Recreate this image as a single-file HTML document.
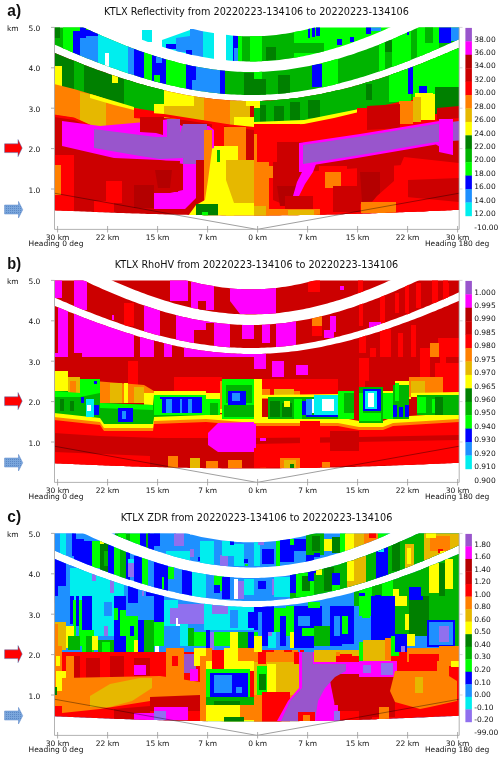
<!DOCTYPE html><html><head><meta charset="utf-8"><style>
html,body{margin:0;padding:0;background:#fff;width:500px;height:758px;overflow:hidden}
svg{display:block}
.t{font-family:"DejaVu Sans","Liberation Sans",sans-serif;font-size:7.5px;fill:#111}
.ti{font-family:"DejaVu Sans","Liberation Sans",sans-serif;font-size:9.7px;fill:#111}
.lb{font-family:"Liberation Sans","DejaVu Sans",sans-serif;font-size:17px;font-weight:bold;fill:#111}
</style></head><body>
<svg width="500" height="758" viewBox="0 0 500 758">
<defs><pattern id="dots" width="2" height="2" patternUnits="userSpaceOnUse"><rect width="2" height="2" fill="#7aa6dc"/><rect width="1" height="1" fill="#5b88c6"/></pattern></defs>
<g transform="translate(0,0)">
<clipPath id="c0s1"><polygon points="54.3,-36.4 57.3,-34.5 60.3,-32.6 63.3,-30.7 66.3,-28.9 69.3,-27.0 72.3,-25.2 75.3,-23.4 78.3,-21.6 81.3,-19.8 84.3,-18.1 87.3,-16.3 90.3,-14.6 93.3,-12.9 96.3,-11.3 99.3,-9.6 102.3,-8.0 105.3,-6.4 108.3,-4.8 111.3,-3.2 114.3,-1.7 117.3,-0.2 120.3,1.3 123.3,2.8 126.3,4.2 129.3,5.7 132.3,7.1 135.3,8.4 138.3,9.8 141.3,11.1 144.3,12.4 147.3,13.6 150.3,14.8 153.3,16.0 156.3,17.2 159.3,18.4 162.3,19.5 165.3,20.5 168.3,21.6 171.3,22.6 174.3,23.6 177.3,24.5 180.3,25.4 183.3,26.3 186.3,27.2 189.3,28.0 192.3,28.7 195.3,29.5 198.3,30.2 201.3,30.9 204.3,31.5 207.3,32.1 210.3,32.6 213.3,33.1 216.3,33.6 219.3,34.1 222.3,34.5 225.3,34.8 228.3,35.1 231.3,35.4 234.3,35.7 237.3,35.9 240.3,36.0 243.3,36.2 246.3,36.2 249.3,36.3 252.3,36.3 255.3,36.2 258.3,36.2 261.3,36.1 264.3,35.9 267.3,35.7 270.3,35.5 273.3,35.2 276.3,34.9 279.3,34.5 282.3,34.1 285.3,33.7 288.3,33.2 291.3,32.7 294.3,32.1 297.3,31.6 300.3,30.9 303.3,30.3 306.3,29.6 309.3,28.8 312.3,28.1 315.3,27.3 318.3,26.4 321.3,25.6 324.3,24.6 327.3,23.7 330.3,22.7 333.3,21.7 336.3,20.7 339.3,19.6 342.3,18.5 345.3,17.4 348.3,16.2 351.3,15.0 354.3,13.8 357.3,12.5 360.3,11.3 363.3,9.9 366.3,8.6 369.3,7.2 372.3,5.9 375.3,4.4 378.3,3.0 381.3,1.5 384.3,0.0 387.3,-1.5 390.3,-3.0 393.3,-4.6 396.3,-6.2 399.3,-7.8 402.3,-9.4 405.3,-11.0 408.3,-12.7 411.3,-14.4 414.3,-16.1 417.3,-17.8 420.3,-19.6 423.3,-21.4 426.3,-23.1 429.3,-24.9 432.3,-26.8 435.3,-28.6 438.3,-30.5 441.3,-32.3 444.3,-34.2 447.3,-36.1 450.3,-38.0 453.3,-40.0 456.3,-41.9 459.2,-43.8 459.2,-8.3 456.3,-6.6 453.3,-4.9 450.3,-3.2 447.3,-1.6 444.3,0.1 441.3,1.7 438.3,3.4 435.3,5.0 432.3,6.6 429.3,8.2 426.3,9.7 423.3,11.3 420.3,12.8 417.3,14.3 414.3,15.8 411.3,17.3 408.3,18.8 405.3,20.2 402.3,21.7 399.3,23.1 396.3,24.5 393.3,25.9 390.3,27.2 387.3,28.6 384.3,29.9 381.3,31.2 378.3,32.5 375.3,33.7 372.3,34.9 369.3,36.2 366.3,37.3 363.3,38.5 360.3,39.6 357.3,40.8 354.3,41.8 351.3,42.9 348.3,43.9 345.3,45.0 342.3,45.9 339.3,46.9 336.3,47.8 333.3,48.7 330.3,49.6 327.3,50.5 324.3,51.3 321.3,52.1 318.3,52.8 315.3,53.6 312.3,54.3 309.3,54.9 306.3,55.6 303.3,56.2 300.3,56.8 297.3,57.3 294.3,57.8 291.3,58.3 288.3,58.7 285.3,59.1 282.3,59.5 279.3,59.9 276.3,60.2 273.3,60.5 270.3,60.7 267.3,60.9 264.3,61.1 261.3,61.2 258.3,61.3 255.3,61.4 252.3,61.4 249.3,61.4 246.3,61.4 243.3,61.3 240.3,61.2 237.3,61.1 234.3,60.9 231.3,60.7 228.3,60.4 225.3,60.1 222.3,59.8 219.3,59.5 216.3,59.1 213.3,58.7 210.3,58.2 207.3,57.7 204.3,57.2 201.3,56.7 198.3,56.1 195.3,55.5 192.3,54.9 189.3,54.2 186.3,53.5 183.3,52.7 180.3,52.0 177.3,51.2 174.3,50.4 171.3,49.5 168.3,48.6 165.3,47.7 162.3,46.8 159.3,45.8 156.3,44.8 153.3,43.8 150.3,42.8 147.3,41.7 144.3,40.6 141.3,39.5 138.3,38.3 135.3,37.2 132.3,36.0 129.3,34.8 126.3,33.5 123.3,32.3 120.3,31.0 117.3,29.7 114.3,28.4 111.3,27.0 108.3,25.7 105.3,24.3 102.3,22.9 99.3,21.5 96.3,20.1 93.3,18.6 90.3,17.1 87.3,15.6 84.3,14.1 81.3,12.6 78.3,11.1 75.3,9.5 72.3,7.9 69.3,6.4 66.3,4.8 63.3,3.1 60.3,1.5 57.3,-0.1 54.3,-1.8"/></clipPath>
<clipPath id="c0s2"><polygon points="54.3,12.8 57.3,14.3 60.3,15.9 63.3,17.4 66.3,18.9 69.3,20.4 72.3,21.9 75.3,23.4 78.3,24.8 81.3,26.3 84.3,27.7 87.3,29.1 90.3,30.5 93.3,31.9 96.3,33.2 99.3,34.6 102.3,35.9 105.3,37.2 108.3,38.5 111.3,39.8 114.3,41.1 117.3,42.3 120.3,43.5 123.3,44.7 126.3,45.9 129.3,47.0 132.3,48.2 135.3,49.3 138.3,50.4 141.3,51.5 144.3,52.5 147.3,53.5 150.3,54.5 153.3,55.5 156.3,56.5 159.3,57.4 162.3,58.3 165.3,59.2 168.3,60.0 171.3,60.8 174.3,61.6 177.3,62.4 180.3,63.2 183.3,63.9 186.3,64.6 189.3,65.2 192.3,65.9 195.3,66.5 198.3,67.0 201.3,67.6 204.3,68.1 207.3,68.6 210.3,69.0 213.3,69.4 216.3,69.8 219.3,70.2 222.3,70.5 225.3,70.8 228.3,71.1 231.3,71.3 234.3,71.5 237.3,71.7 240.3,71.8 243.3,71.9 246.3,72.0 249.3,72.0 252.3,72.0 255.3,72.0 258.3,71.9 261.3,71.8 264.3,71.7 267.3,71.5 270.3,71.3 273.3,71.1 276.3,70.8 279.3,70.6 282.3,70.2 285.3,69.9 288.3,69.5 291.3,69.1 294.3,68.6 297.3,68.1 300.3,67.6 303.3,67.1 306.3,66.5 309.3,65.9 312.3,65.3 315.3,64.7 318.3,64.0 321.3,63.3 324.3,62.5 327.3,61.7 330.3,61.0 333.3,60.1 336.3,59.3 339.3,58.4 342.3,57.5 345.3,56.6 348.3,55.6 351.3,54.7 354.3,53.7 357.3,52.6 360.3,51.6 363.3,50.5 366.3,49.4 369.3,48.3 372.3,47.2 375.3,46.0 378.3,44.9 381.3,43.7 384.3,42.5 387.3,41.2 390.3,40.0 393.3,38.7 396.3,37.4 399.3,36.1 402.3,34.8 405.3,33.4 408.3,32.1 411.3,30.7 414.3,29.3 417.3,27.9 420.3,26.5 423.3,25.0 426.3,23.6 429.3,22.1 432.3,20.6 435.3,19.1 438.3,17.6 441.3,16.1 444.3,14.5 447.3,13.0 450.3,11.4 453.3,9.8 456.3,8.3 459.2,6.7 459.2,39.2 456.3,40.5 453.3,41.9 450.3,43.3 447.3,44.6 444.3,45.9 441.3,47.2 438.3,48.5 435.3,49.8 432.3,51.1 429.3,52.4 426.3,53.6 423.3,54.9 420.3,56.1 417.3,57.3 414.3,58.5 411.3,59.7 408.3,60.9 405.3,62.0 402.3,63.2 399.3,64.3 396.3,65.4 393.3,66.5 390.3,67.6 387.3,68.7 384.3,69.8 381.3,70.8 378.3,71.8 375.3,72.8 372.3,73.8 369.3,74.8 366.3,75.7 363.3,76.7 360.3,77.6 357.3,78.5 354.3,79.3 351.3,80.2 348.3,81.0 345.3,81.8 342.3,82.6 339.3,83.4 336.3,84.1 333.3,84.9 330.3,85.6 327.3,86.2 324.3,86.9 321.3,87.5 318.3,88.1 315.3,88.7 312.3,89.3 309.3,89.8 306.3,90.3 303.3,90.8 300.3,91.3 297.3,91.7 294.3,92.1 291.3,92.5 288.3,92.8 285.3,93.2 282.3,93.5 279.3,93.8 276.3,94.0 273.3,94.2 270.3,94.4 267.3,94.6 264.3,94.7 261.3,94.8 258.3,94.9 255.3,95.0 252.3,95.0 249.3,95.0 246.3,95.0 243.3,94.9 240.3,94.8 237.3,94.7 234.3,94.6 231.3,94.4 228.3,94.2 225.3,94.0 222.3,93.7 219.3,93.4 216.3,93.1 213.3,92.8 210.3,92.4 207.3,92.1 204.3,91.6 201.3,91.2 198.3,90.7 195.3,90.3 192.3,89.7 189.3,89.2 186.3,88.6 183.3,88.0 180.3,87.4 177.3,86.8 174.3,86.1 171.3,85.5 168.3,84.8 165.3,84.0 162.3,83.3 159.3,82.5 156.3,81.7 153.3,80.9 150.3,80.1 147.3,79.2 144.3,78.3 141.3,77.4 138.3,76.5 135.3,75.6 132.3,74.6 129.3,73.7 126.3,72.7 123.3,71.7 120.3,70.7 117.3,69.6 114.3,68.6 111.3,67.5 108.3,66.4 105.3,65.3 102.3,64.2 99.3,63.0 96.3,61.9 93.3,60.7 90.3,59.5 87.3,58.4 84.3,57.2 81.3,55.9 78.3,54.7 75.3,53.5 72.3,52.2 69.3,50.9 66.3,49.6 63.3,48.4 60.3,47.1 57.3,45.7 54.3,44.4"/></clipPath>
<clipPath id="c0s3"><polygon points="54.3,52.7 57.3,54.0 60.3,55.2 63.3,56.5 66.3,57.7 69.3,58.9 72.3,60.1 75.3,61.3 78.3,62.5 81.3,63.7 84.3,64.9 87.3,66.0 90.3,67.2 93.3,68.3 96.3,69.4 99.3,70.5 102.3,71.6 105.3,72.6 108.3,73.7 111.3,74.7 114.3,75.8 117.3,76.8 120.3,77.8 123.3,78.7 126.3,79.7 129.3,80.6 132.3,81.6 135.3,82.5 138.3,83.4 141.3,84.2 144.3,85.1 147.3,85.9 150.3,86.8 153.3,87.6 156.3,88.3 159.3,89.1 162.3,89.8 165.3,90.5 168.3,91.2 171.3,91.9 174.3,92.6 177.3,93.2 180.3,93.8 183.3,94.4 186.3,94.9 189.3,95.5 192.3,96.0 195.3,96.5 198.3,97.0 201.3,97.4 204.3,97.8 207.3,98.2 210.3,98.6 213.3,98.9 216.3,99.2 219.3,99.5 222.3,99.8 225.3,100.0 228.3,100.2 231.3,100.4 234.3,100.6 237.3,100.7 240.3,100.8 243.3,100.9 246.3,101.0 249.3,101.0 252.3,101.0 255.3,101.0 258.3,100.9 261.3,100.9 264.3,100.7 267.3,100.6 270.3,100.5 273.3,100.3 276.3,100.1 279.3,99.8 282.3,99.6 285.3,99.3 288.3,99.0 291.3,98.6 294.3,98.3 297.3,97.9 300.3,97.5 303.3,97.0 306.3,96.5 309.3,96.1 312.3,95.5 315.3,95.0 318.3,94.5 321.3,93.9 324.3,93.3 327.3,92.6 330.3,92.0 333.3,91.3 336.3,90.6 339.3,89.9 342.3,89.2 345.3,88.4 348.3,87.7 351.3,86.9 354.3,86.0 357.3,85.2 360.3,84.4 363.3,83.5 366.3,82.6 369.3,81.7 372.3,80.8 375.3,79.8 378.3,78.9 381.3,77.9 384.3,76.9 387.3,75.9 390.3,74.9 393.3,73.8 396.3,72.8 399.3,71.7 402.3,70.6 405.3,69.5 408.3,68.4 411.3,67.3 414.3,66.2 417.3,65.0 420.3,63.9 423.3,62.7 426.3,61.5 429.3,60.3 432.3,59.1 435.3,57.9 438.3,56.6 441.3,55.4 444.3,54.1 447.3,52.9 450.3,51.6 453.3,50.3 456.3,49.0 459.2,47.7 459.2,209.7 456.3,209.9 453.3,210.0 450.3,210.2 447.3,210.3 444.3,210.4 441.3,210.6 438.3,210.7 435.3,210.8 432.3,211.0 429.3,211.1 426.3,211.2 423.3,211.4 420.3,211.5 417.3,211.6 414.3,211.7 411.3,211.9 408.3,212.0 405.3,212.1 402.3,212.2 399.3,212.3 396.3,212.4 393.3,212.6 390.3,212.7 387.3,212.8 384.3,212.9 381.3,213.0 378.3,213.1 375.3,213.2 372.3,213.3 369.3,213.4 366.3,213.5 363.3,213.6 360.3,213.7 357.3,213.8 354.3,213.9 351.3,214.0 348.3,214.1 345.3,214.1 342.3,214.2 339.3,214.3 336.3,214.4 333.3,214.5 330.3,214.5 327.3,214.6 324.3,214.7 321.3,214.7 318.3,214.8 315.3,214.9 312.3,214.9 309.3,215.0 306.3,215.0 303.3,215.1 300.3,215.1 297.3,215.2 294.3,215.2 291.3,215.2 288.3,215.3 285.3,215.3 282.3,215.3 279.3,215.4 276.3,215.4 273.3,215.4 270.3,215.4 267.3,215.5 264.3,215.5 261.3,215.5 258.3,215.5 255.3,215.5 252.3,215.5 249.3,215.5 246.3,215.5 243.3,215.5 240.3,215.5 237.3,215.5 234.3,215.5 231.3,215.4 228.3,215.4 225.3,215.4 222.3,215.4 219.3,215.3 216.3,215.3 213.3,215.3 210.3,215.2 207.3,215.2 204.3,215.2 201.3,215.1 198.3,215.1 195.3,215.0 192.3,215.0 189.3,214.9 186.3,214.8 183.3,214.8 180.3,214.7 177.3,214.7 174.3,214.6 171.3,214.5 168.3,214.4 165.3,214.4 162.3,214.3 159.3,214.2 156.3,214.1 153.3,214.0 150.3,214.0 147.3,213.9 144.3,213.8 141.3,213.7 138.3,213.6 135.3,213.5 132.3,213.4 129.3,213.3 126.3,213.2 123.3,213.1 120.3,213.0 117.3,212.9 114.3,212.8 111.3,212.7 108.3,212.5 105.3,212.4 102.3,212.3 99.3,212.2 96.3,212.1 93.3,212.0 90.3,211.8 87.3,211.7 84.3,211.6 81.3,211.5 78.3,211.3 75.3,211.2 72.3,211.1 69.3,210.9 66.3,210.8 63.3,210.7 60.3,210.5 57.3,210.4 54.3,210.3"/></clipPath>
<clipPath id="c0r"><rect x="54.3" y="27.4" width="404.9" height="202"/></clipPath>
<g clip-path="url(#c0r)">
<g clip-path="url(#c0s1)"><rect x="0.0" y="0.0" width="500.0" height="260.0" fill="#ffffff"/><polygon points="142.0,30.0 152.0,30.0 152.0,42.0 142.0,42.0" fill="#00eeee"/><polygon points="162.0,40.0 176.0,35.0 190.0,30.0 190.0,60.0 162.0,60.0" fill="#00eeee"/><polygon points="166.0,44.0 176.0,44.0 176.0,49.0 166.0,49.0" fill="#0000ff"/><polygon points="176.0,38.0 190.0,36.0 190.0,52.0 176.0,52.0" fill="#1e90ff"/><polygon points="190.0,29.0 203.0,29.0 203.0,60.0 190.0,60.0" fill="#1e90ff"/><polygon points="186.0,50.0 192.0,50.0 192.0,60.0 186.0,60.0" fill="#0000ff"/><polygon points="203.0,31.0 214.0,31.0 214.0,62.0 203.0,62.0" fill="#00eeee"/><polygon points="226.0,34.0 233.0,34.0 233.0,62.0 226.0,62.0" fill="#00eeee"/><polygon points="233.0,34.0 238.0,34.0 238.0,62.0 233.0,62.0" fill="#0000ff"/><polygon points="234.0,48.0 238.0,48.0 238.0,62.0 234.0,62.0" fill="#1e90ff"/><polygon points="238.0,34.0 242.0,34.0 242.0,62.0 238.0,62.0" fill="#00ff00"/><polygon points="242.0,30.0 300.0,30.0 300.0,70.0 242.0,70.0" fill="#00b400"/><polygon points="250.0,30.0 262.0,30.0 262.0,70.0 250.0,70.0" fill="#00ff00"/><polygon points="266.0,47.0 276.0,47.0 276.0,60.0 266.0,60.0" fill="#008000"/><polygon points="294.0,25.0 420.0,25.0 420.0,70.0 294.0,70.0" fill="#00ff00"/><polygon points="294.0,43.0 324.0,43.0 324.0,53.0 294.0,53.0" fill="#00b400"/><polygon points="308.0,28.0 310.0,28.0 310.0,38.0 308.0,38.0" fill="#0000ff"/><polygon points="312.0,27.0 315.0,27.0 315.0,37.0 312.0,37.0" fill="#0000ff"/><polygon points="316.0,25.0 320.0,25.0 320.0,36.0 316.0,36.0" fill="#0000ff"/><polygon points="337.0,39.0 342.0,39.0 342.0,45.0 337.0,45.0" fill="#0000ff"/><polygon points="350.0,37.0 354.0,37.0 354.0,42.0 350.0,42.0" fill="#0000ff"/><polygon points="366.0,25.0 371.0,25.0 371.0,34.0 366.0,34.0" fill="#0000ff"/><polygon points="371.0,25.0 381.0,25.0 381.0,31.0 371.0,31.0" fill="#1e90ff"/></g>
<g clip-path="url(#c0s2)"><rect x="0.0" y="0.0" width="500.0" height="260.0" fill="#00b400"/><polygon points="54.0,25.0 60.0,25.0 60.0,38.0 54.0,38.0" fill="#008000"/><polygon points="63.0,25.0 73.0,25.0 73.0,60.0 63.0,60.0" fill="#00ff00"/><polygon points="73.0,25.0 80.0,25.0 80.0,31.0 73.0,31.0" fill="#00ff00"/><polygon points="73.0,31.0 80.0,31.0 80.0,60.0 73.0,60.0" fill="#0000ff"/><polygon points="80.0,25.0 86.0,25.0 86.0,38.0 80.0,38.0" fill="#0000ff"/><polygon points="80.0,38.0 86.0,38.0 86.0,60.0 80.0,60.0" fill="#1e90ff"/><polygon points="86.0,30.0 98.0,30.0 98.0,36.0 86.0,36.0" fill="#0000ff"/><polygon points="86.0,36.0 98.0,36.0 98.0,70.0 86.0,70.0" fill="#1e90ff"/><polygon points="98.0,30.0 129.0,30.0 129.0,80.0 98.0,80.0" fill="#00eeee"/><polygon points="105.0,53.0 109.0,53.0 109.0,70.0 105.0,70.0" fill="#ffffff"/><polygon points="128.0,30.0 134.0,30.0 134.0,80.0 128.0,80.0" fill="#1e90ff"/><polygon points="134.0,30.0 144.0,30.0 144.0,85.0 134.0,85.0" fill="#0000ff"/><polygon points="144.0,30.0 152.0,30.0 152.0,90.0 144.0,90.0" fill="#00ff00"/><polygon points="152.0,30.0 166.0,30.0 166.0,90.0 152.0,90.0" fill="#0000ff"/><polygon points="156.0,56.0 162.0,56.0 162.0,63.0 156.0,63.0" fill="#1e90ff"/><polygon points="154.0,75.0 160.0,75.0 160.0,90.0 154.0,90.0" fill="#00ff00"/><polygon points="166.0,40.0 186.0,40.0 186.0,95.0 166.0,95.0" fill="#00ff00"/><polygon points="186.0,40.0 192.0,40.0 192.0,95.0 186.0,95.0" fill="#0000ff"/><polygon points="192.0,40.0 220.0,40.0 220.0,100.0 192.0,100.0" fill="#1e90ff"/><polygon points="192.0,40.0 196.0,40.0 196.0,80.0 192.0,80.0" fill="#0000ff"/><polygon points="220.0,40.0 225.0,40.0 225.0,100.0 220.0,100.0" fill="#0000ff"/><polygon points="244.0,73.0 254.0,73.0 254.0,100.0 244.0,100.0" fill="#008000"/><polygon points="254.0,60.0 262.0,60.0 262.0,80.0 254.0,80.0" fill="#00ff00"/><polygon points="254.0,79.0 266.0,79.0 266.0,100.0 254.0,100.0" fill="#008000"/><polygon points="278.0,75.0 290.0,75.0 290.0,100.0 278.0,100.0" fill="#008000"/><polygon points="312.0,64.0 323.0,64.0 323.0,87.0 312.0,87.0" fill="#0000ff"/><polygon points="322.0,50.0 338.0,50.0 338.0,95.0 322.0,95.0" fill="#00ff00"/><polygon points="385.0,40.0 392.0,40.0 392.0,52.0 385.0,52.0" fill="#008000"/><polygon points="379.0,40.0 385.0,40.0 385.0,90.0 379.0,90.0" fill="#00ff00"/><polygon points="392.0,30.0 411.0,30.0 411.0,90.0 392.0,90.0" fill="#00ff00"/><polygon points="417.0,25.0 439.0,25.0 439.0,80.0 417.0,80.0" fill="#00ff00"/><polygon points="425.0,25.0 433.0,25.0 433.0,43.0 425.0,43.0" fill="#00b400"/><polygon points="439.0,25.0 451.0,25.0 451.0,43.0 439.0,43.0" fill="#0000ff"/><polygon points="451.0,25.0 460.0,25.0 460.0,41.0 451.0,41.0" fill="#1e90ff"/><polygon points="407.0,30.0 409.0,30.0 409.0,35.0 407.0,35.0" fill="#0000ff"/><polygon points="433.0,57.0 437.0,57.0 437.0,60.0 433.0,60.0" fill="#0000ff"/><polygon points="449.0,50.0 457.0,50.0 457.0,54.0 449.0,54.0" fill="#0000ff"/></g>
<g clip-path="url(#c0s3)"><rect x="0.0" y="0.0" width="500.0" height="260.0" fill="#cc0000"/><polygon points="254.0,100.0 459.0,100.0 459.0,215.0 254.0,215.0" fill="#ff0000"/><polygon points="254.0,40.0 459.0,40.0 459.0,100.0 254.0,100.0" fill="#00b400"/><polygon points="389.0,40.0 459.0,40.0 459.0,60.0 389.0,60.0" fill="#00ff00"/><polygon points="0.0,0.0 164.0,0.0 164.0,110.0 154.0,112.0 134.0,109.0 114.0,103.0 94.0,96.0 74.0,91.0 54.0,86.0 0.0,86.0" fill="#008000"/><polygon points="54.0,66.0 62.0,66.0 62.0,87.0 54.0,87.0" fill="#ffff00"/><polygon points="74.0,55.0 84.0,55.0 84.0,94.0 74.0,92.0" fill="#00b400"/><polygon points="112.0,74.0 118.0,74.0 118.0,83.0 112.0,83.0" fill="#ffff00"/><polygon points="124.0,75.0 164.0,75.0 164.0,110.0 154.0,112.0 134.0,109.0 124.0,106.0" fill="#00b400"/><polygon points="0.0,84.0 54.0,84.0 74.0,89.0 94.0,95.0 114.0,102.0 134.0,108.0 140.0,109.0 140.0,131.0 114.0,130.0 94.0,127.0 74.0,118.0 54.0,115.0 0.0,115.0" fill="#ff8000"/><polygon points="80.0,92.0 94.0,95.0 106.0,99.0 106.0,128.0 94.0,127.0 80.0,120.0" fill="#e6b800"/><polygon points="90.0,94.0 114.0,101.0 134.0,107.0 134.0,110.0 114.0,105.0 90.0,98.0" fill="#ffff00"/><polygon points="134.0,108.0 160.0,112.0 160.0,120.0 134.0,118.0" fill="#ff0000"/><polygon points="154.0,104.0 166.0,104.0 166.0,114.0 154.0,114.0" fill="#ffff00"/><polygon points="164.0,90.0 196.0,90.0 196.0,112.0 164.0,112.0" fill="#ffff00"/><polygon points="194.0,90.0 206.0,90.0 206.0,110.0 194.0,110.0" fill="#e6b800"/><polygon points="164.0,106.0 210.0,106.0 210.0,121.0 164.0,118.0" fill="#e6b800"/><polygon points="204.0,90.0 230.0,90.0 230.0,125.0 204.0,122.0" fill="#ff8000"/><polygon points="230.0,90.0 250.0,90.0 250.0,127.0 230.0,126.0" fill="#e6b800"/><polygon points="234.0,117.0 254.0,117.0 254.0,128.0 234.0,127.0" fill="#ffff00"/><polygon points="246.0,98.0 254.0,98.0 254.0,106.0 246.0,106.0" fill="#ffff00"/><polygon points="54.0,114.5 74.0,117.5 94.0,126.5 114.0,128.5 138.0,129.5 138.0,132.0 114.0,131.0 94.0,129.0 74.0,120.0 54.0,117.0" fill="#ff0000"/><polygon points="138.0,112.0 164.0,114.0 230.0,124.4 254.0,127.0 254.0,130.0 230.0,127.0 164.0,117.0 138.0,115.0" fill="#ff0000"/><polygon points="254.0,90.0 500.0,90.0 500.0,112.0 459.0,110.0 435.0,114.0 419.0,97.0 399.0,102.0 359.0,111.0 334.0,116.0 304.0,122.0 254.0,124.0" fill="#00b400"/><polygon points="254.0,98.0 260.0,98.0 260.0,108.0 254.0,108.0" fill="#ffff00"/><polygon points="260.0,105.0 266.0,105.0 266.0,124.0 260.0,124.0" fill="#008000"/><polygon points="274.0,106.0 284.0,106.0 284.0,124.0 274.0,124.0" fill="#008000"/><polygon points="290.0,102.0 300.0,102.0 300.0,120.0 290.0,120.0" fill="#008000"/><polygon points="308.0,100.0 320.0,100.0 320.0,118.0 308.0,118.0" fill="#008000"/><polygon points="254.0,122.0 304.0,120.0 334.0,114.0 359.0,109.0 359.0,112.0 334.0,118.0 304.0,124.0 254.0,126.0" fill="#ffff00"/><polygon points="359.0,80.0 389.0,80.0 389.0,100.0 359.0,104.0" fill="#00b400"/><polygon points="366.0,84.0 372.0,84.0 372.0,100.0 366.0,100.0" fill="#008000"/><polygon points="389.0,60.0 411.0,60.0 411.0,102.0 389.0,102.0" fill="#00ff00"/><polygon points="413.0,50.0 459.0,50.0 459.0,90.0 413.0,98.0" fill="#00ff00"/><polygon points="408.0,66.0 413.0,66.0 413.0,94.0 408.0,94.0" fill="#0000ff"/><polygon points="435.0,87.0 459.0,87.0 459.0,114.0 435.0,114.0" fill="#008000"/><polygon points="419.0,86.0 427.0,86.0 427.0,93.0 419.0,93.0" fill="#0000ff"/><polygon points="415.0,93.0 433.0,93.0 433.0,97.0 415.0,97.0" fill="#ffff00"/><polygon points="359.0,110.0 367.0,110.0 367.0,122.0 359.0,122.0" fill="#ff8000"/><polygon points="399.0,101.0 413.0,101.0 413.0,124.0 399.0,124.0" fill="#ff8000"/><polygon points="413.0,97.0 421.0,97.0 421.0,122.0 413.0,122.0" fill="#e6b800"/><polygon points="421.0,94.0 435.0,94.0 435.0,120.0 421.0,120.0" fill="#ffff00"/><polygon points="212.0,124.0 224.0,124.0 224.0,148.0 212.0,148.0" fill="#ff0000"/><polygon points="224.0,127.0 246.0,127.0 246.0,160.0 224.0,160.0" fill="#ff8000"/><polygon points="212.0,146.0 238.0,146.0 238.0,160.0 212.0,160.0" fill="#ffff00"/><polygon points="62.0,121.0 100.0,126.0 156.0,121.0 169.0,119.0 182.0,126.0 209.0,126.0 214.0,130.0 214.0,148.0 207.0,150.0 198.0,165.0 198.0,196.0 185.0,209.0 154.0,209.0 154.0,193.0 170.0,193.0 183.0,190.0 183.0,164.0 160.0,160.0 114.0,158.0 62.0,146.0" fill="#ff00ff"/><polygon points="94.0,129.0 140.0,135.0 156.0,137.0 167.0,137.0 167.0,119.0 180.0,119.0 180.0,133.0 183.0,124.0 207.0,124.0 207.0,164.0 183.0,164.0 183.0,158.0 160.0,159.0 140.0,156.0 94.0,148.0" fill="#9955cc"/><polygon points="140.0,117.0 163.0,117.0 163.0,135.0 156.0,133.0 140.0,132.0" fill="#cc0000"/><polygon points="148.0,160.0 180.0,161.0 178.0,192.0 154.0,192.0 150.0,180.0" fill="#cc0000"/><polygon points="155.0,170.0 172.0,170.0 170.0,188.0 158.0,188.0" fill="#b40000"/><polygon points="196.0,160.0 204.0,160.0 204.0,210.0 196.0,214.0" fill="#cc0000"/><polygon points="204.0,130.0 212.0,130.0 212.0,214.0 204.0,214.0" fill="#ff8000"/><polygon points="212.0,150.0 234.0,150.0 234.0,216.0 188.0,216.0 196.0,205.0 205.0,200.0 208.0,180.0" fill="#ffff00"/><polygon points="217.0,150.0 220.0,150.0 220.0,162.0 217.0,162.0" fill="#00b400"/><polygon points="226.0,160.0 254.0,160.0 254.0,203.0 234.0,203.0 226.0,180.0" fill="#e6b800"/><polygon points="226.0,203.0 254.0,203.0 254.0,216.0 226.0,216.0" fill="#ffff00"/><polygon points="196.0,204.0 218.0,204.0 218.0,216.0 196.0,216.0" fill="#008000"/><polygon points="202.0,212.0 208.0,212.0 208.0,216.0 202.0,216.0" fill="#00ff00"/><polygon points="254.0,124.0 300.0,124.0 300.0,160.0 254.0,160.0" fill="#ff0000"/><polygon points="254.0,134.0 258.0,134.0 258.0,150.0 254.0,150.0" fill="#ff8000"/><polygon points="367.0,106.0 400.0,104.0 400.0,128.0 367.0,130.0" fill="#cc0000"/><polygon points="357.0,108.0 367.0,108.0 367.0,130.0 357.0,130.0" fill="#ff0000"/><polygon points="437.0,108.0 459.0,106.0 459.0,118.0 437.0,120.0" fill="#cc0000"/><polygon points="254.0,150.0 269.0,150.0 269.0,216.0 254.0,216.0" fill="#ff8000"/><polygon points="257.0,134.0 261.0,134.0 261.0,150.0 257.0,150.0" fill="#ff8000"/><polygon points="254.0,206.0 266.0,206.0 266.0,216.0 254.0,216.0" fill="#e6b800"/><polygon points="269.0,166.0 279.0,166.0 279.0,178.0 269.0,178.0" fill="#ff8000"/><polygon points="273.0,142.0 303.0,142.0 303.0,170.0 296.0,200.0 285.0,205.0 273.0,200.0" fill="#cc0000"/><polygon points="277.0,186.0 298.0,186.0 298.0,206.0 280.0,206.0" fill="#b40000"/><polygon points="285.0,196.0 315.0,196.0 315.0,210.0 285.0,210.0" fill="#cc0000"/><polygon points="257.0,130.0 277.0,130.0 277.0,162.0 257.0,162.0" fill="#ff0000"/><polygon points="313.0,162.0 329.0,162.0 329.0,210.0 313.0,210.0" fill="#ff0000"/><polygon points="303.0,158.0 460.0,140.0 460.0,172.0 403.0,165.0 303.0,172.0" fill="#cc0000"/><polygon points="319.0,166.0 347.0,166.0 347.0,192.0 319.0,192.0" fill="#ff0000"/><polygon points="325.0,172.0 341.0,172.0 341.0,188.0 325.0,188.0" fill="#ff8000"/><polygon points="333.0,186.0 360.0,186.0 360.0,212.0 333.0,212.0" fill="#cc0000"/><polygon points="357.0,158.0 394.0,158.0 394.0,202.0 357.0,204.0" fill="#cc0000"/><polygon points="360.0,172.0 380.0,172.0 380.0,200.0 362.0,202.0" fill="#b40000"/><polygon points="404.0,157.0 459.0,163.0 459.0,177.0 424.0,181.0 408.0,192.0 398.0,206.0 367.0,208.0 377.0,196.0 394.0,181.0" fill="#ff0000"/><polygon points="408.0,180.0 459.0,178.0 459.0,210.0 408.0,210.0" fill="#cc0000"/><polygon points="396.0,196.0 459.0,202.0 459.0,212.0 396.0,212.0" fill="#ff0000"/><polygon points="361.0,202.0 396.0,202.0 396.0,213.0 361.0,213.0" fill="#ff8000"/><polygon points="266.0,209.0 320.0,209.0 320.0,216.0 266.0,216.0" fill="#ff8000"/><polygon points="288.0,210.0 314.0,210.0 314.0,216.0 288.0,216.0" fill="#e6b800"/><polygon points="299.0,143.0 360.0,134.0 436.0,121.5 453.0,119.0 453.0,155.0 436.0,144.5 360.0,157.5 304.0,166.5 304.0,172.0 299.0,172.0" fill="#ff00ff"/><polygon points="303.0,145.0 360.0,136.5 436.0,124.0 459.0,121.0 459.0,140.5 436.0,142.0 360.0,155.0 303.0,164.0" fill="#9955cc"/><polygon points="304.0,164.0 316.0,164.0 313.0,172.0 305.0,184.0 299.0,196.0 293.0,196.0 297.0,182.0 303.0,170.0" fill="#ff00ff"/><polygon points="439.0,119.0 453.0,119.0 453.0,155.0 439.0,152.0" fill="#ff00ff"/><polygon points="54.0,155.0 74.0,155.0 74.0,211.0 54.0,211.0" fill="#ff0000"/><polygon points="54.0,165.0 61.0,165.0 61.0,195.0 54.0,195.0" fill="#ff8000"/><polygon points="106.0,181.0 122.0,181.0 122.0,203.0 106.0,203.0" fill="#ff0000"/><polygon points="94.0,201.0 114.0,201.0 114.0,212.0 94.0,212.0" fill="#ff0000"/><polygon points="134.0,185.0 154.0,185.0 154.0,208.0 134.0,208.0" fill="#b40000"/></g>
</g>
<polyline points="54.3,193.2 257,229.4 459.2,193.2" fill="none" stroke="#000" stroke-opacity="0.5" stroke-width="0.75"/>
<path d="M54.5,27.4V229.4H459.2V27.4" fill="none" stroke="#aaa" stroke-width="0.9"/>
<line x1="51" y1="27.4" x2="54.5" y2="27.4" stroke="#999" stroke-width="0.8"/>
<line x1="459.2" y1="27.4" x2="462.5" y2="27.4" stroke="#bbb" stroke-width="0.6"/>
<text x="40.4" y="30.9" text-anchor="end" class="t">5.0</text>
<line x1="51" y1="67.8" x2="54.5" y2="67.8" stroke="#999" stroke-width="0.8"/>
<line x1="459.2" y1="67.8" x2="462.5" y2="67.8" stroke="#bbb" stroke-width="0.6"/>
<text x="40.4" y="71.3" text-anchor="end" class="t">4.0</text>
<line x1="51" y1="108.2" x2="54.5" y2="108.2" stroke="#999" stroke-width="0.8"/>
<line x1="459.2" y1="108.2" x2="462.5" y2="108.2" stroke="#bbb" stroke-width="0.6"/>
<text x="40.4" y="111.7" text-anchor="end" class="t">3.0</text>
<line x1="51" y1="148.6" x2="54.5" y2="148.6" stroke="#999" stroke-width="0.8"/>
<line x1="459.2" y1="148.6" x2="462.5" y2="148.6" stroke="#bbb" stroke-width="0.6"/>
<text x="40.4" y="152.1" text-anchor="end" class="t">2.0</text>
<line x1="51" y1="189.0" x2="54.5" y2="189.0" stroke="#999" stroke-width="0.8"/>
<line x1="459.2" y1="189.0" x2="462.5" y2="189.0" stroke="#bbb" stroke-width="0.6"/>
<text x="40.4" y="192.5" text-anchor="end" class="t">1.0</text>
<text x="7" y="31.2" class="t">km</text>
<line x1="57.6" y1="226" x2="57.6" y2="232.5" stroke="#999" stroke-width="0.8"/>
<text x="57.6" y="239.8" text-anchor="middle" class="t">30 km</text>
<line x1="107.6" y1="226" x2="107.6" y2="232.5" stroke="#999" stroke-width="0.8"/>
<text x="107.6" y="239.8" text-anchor="middle" class="t">22 km</text>
<line x1="157.6" y1="226" x2="157.6" y2="232.5" stroke="#999" stroke-width="0.8"/>
<text x="157.6" y="239.8" text-anchor="middle" class="t">15 km</text>
<line x1="207.6" y1="226" x2="207.6" y2="232.5" stroke="#999" stroke-width="0.8"/>
<text x="207.6" y="239.8" text-anchor="middle" class="t">7 km</text>
<line x1="257.6" y1="226" x2="257.6" y2="232.5" stroke="#999" stroke-width="0.8"/>
<text x="257.6" y="239.8" text-anchor="middle" class="t">0 km</text>
<line x1="307.6" y1="226" x2="307.6" y2="232.5" stroke="#999" stroke-width="0.8"/>
<text x="307.6" y="239.8" text-anchor="middle" class="t">7 km</text>
<line x1="357.6" y1="226" x2="357.6" y2="232.5" stroke="#999" stroke-width="0.8"/>
<text x="357.6" y="239.8" text-anchor="middle" class="t">15 km</text>
<line x1="407.6" y1="226" x2="407.6" y2="232.5" stroke="#999" stroke-width="0.8"/>
<text x="407.6" y="239.8" text-anchor="middle" class="t">22 km</text>
<line x1="457.6" y1="226" x2="457.6" y2="232.5" stroke="#999" stroke-width="0.8"/>
<text x="457.6" y="239.8" text-anchor="middle" class="t">30 km</text>
<text x="28.6" y="246.2" class="t">Heading 0 deg</text>
<text x="489.4" y="246.2" text-anchor="end" class="t">Heading 180 deg</text>
<text x="256.5" y="15.1" text-anchor="middle" class="ti">KTLX Reflectivity from 20220223-134106 to 20220223-134106</text>
<text x="7.3" y="16.4" class="lb" textLength="13.8" lengthAdjust="spacingAndGlyphs">a)</text>
<rect x="465.4" y="27.90" width="6.5" height="13.73" fill="#9955cc"/>
<rect x="465.4" y="41.33" width="6.5" height="13.73" fill="#ff00ff"/>
<rect x="465.4" y="54.76" width="6.5" height="13.73" fill="#b40000"/>
<rect x="465.4" y="68.19" width="6.5" height="13.73" fill="#cc0000"/>
<rect x="465.4" y="81.61" width="6.5" height="13.73" fill="#ff0000"/>
<rect x="465.4" y="95.04" width="6.5" height="13.73" fill="#ff8000"/>
<rect x="465.4" y="108.47" width="6.5" height="13.73" fill="#e6b800"/>
<rect x="465.4" y="121.90" width="6.5" height="13.73" fill="#ffff00"/>
<rect x="465.4" y="135.33" width="6.5" height="13.73" fill="#008000"/>
<rect x="465.4" y="148.76" width="6.5" height="13.73" fill="#00b400"/>
<rect x="465.4" y="162.19" width="6.5" height="13.73" fill="#00ff00"/>
<rect x="465.4" y="175.61" width="6.5" height="13.73" fill="#0000ff"/>
<rect x="465.4" y="189.04" width="6.5" height="13.73" fill="#1e90ff"/>
<rect x="465.4" y="202.47" width="6.5" height="13.73" fill="#00eeee"/>
<text x="474.2" y="41.5" class="t">38.00</text>
<text x="474.2" y="55.0" class="t">36.00</text>
<text x="474.2" y="68.4" class="t">34.00</text>
<text x="474.2" y="81.8" class="t">32.00</text>
<text x="474.2" y="95.2" class="t">30.00</text>
<text x="474.2" y="108.7" class="t">28.00</text>
<text x="474.2" y="122.1" class="t">26.00</text>
<text x="474.2" y="135.5" class="t">24.00</text>
<text x="474.2" y="149.0" class="t">22.00</text>
<text x="474.2" y="162.4" class="t">20.00</text>
<text x="474.2" y="175.8" class="t">18.00</text>
<text x="474.2" y="189.2" class="t">16.00</text>
<text x="474.2" y="202.7" class="t">14.00</text>
<text x="474.2" y="216.1" class="t">12.00</text>
<text x="474.2" y="229.5" class="t">-10.00</text>
<path d="M4.6,143.8H18V139.6L22.2,148.1L18,156.6V152.6H4.6Z" fill="#ff0000" stroke="#4a6fb0" stroke-width="0.5"/>
<path d="M4.6,205H18.5V201.4L22.7,209.7L18.5,218V214H4.6Z" fill="url(#dots)" stroke="#5a86c8" stroke-width="0.5"/>
</g>
<g transform="translate(0,253)">
<clipPath id="c1s1"><polygon points="54.3,-36.4 57.3,-34.5 60.3,-32.6 63.3,-30.7 66.3,-28.9 69.3,-27.0 72.3,-25.2 75.3,-23.4 78.3,-21.6 81.3,-19.8 84.3,-18.1 87.3,-16.3 90.3,-14.6 93.3,-12.9 96.3,-11.3 99.3,-9.6 102.3,-8.0 105.3,-6.4 108.3,-4.8 111.3,-3.2 114.3,-1.7 117.3,-0.2 120.3,1.3 123.3,2.8 126.3,4.2 129.3,5.7 132.3,7.1 135.3,8.4 138.3,9.8 141.3,11.1 144.3,12.4 147.3,13.6 150.3,14.8 153.3,16.0 156.3,17.2 159.3,18.4 162.3,19.5 165.3,20.5 168.3,21.6 171.3,22.6 174.3,23.6 177.3,24.5 180.3,25.4 183.3,26.3 186.3,27.2 189.3,28.0 192.3,28.7 195.3,29.5 198.3,30.2 201.3,30.9 204.3,31.5 207.3,32.1 210.3,32.6 213.3,33.1 216.3,33.6 219.3,34.1 222.3,34.5 225.3,34.8 228.3,35.1 231.3,35.4 234.3,35.7 237.3,35.9 240.3,36.0 243.3,36.2 246.3,36.2 249.3,36.3 252.3,36.3 255.3,36.2 258.3,36.2 261.3,36.1 264.3,35.9 267.3,35.7 270.3,35.5 273.3,35.2 276.3,34.9 279.3,34.5 282.3,34.1 285.3,33.7 288.3,33.2 291.3,32.7 294.3,32.1 297.3,31.6 300.3,30.9 303.3,30.3 306.3,29.6 309.3,28.8 312.3,28.1 315.3,27.3 318.3,26.4 321.3,25.6 324.3,24.6 327.3,23.7 330.3,22.7 333.3,21.7 336.3,20.7 339.3,19.6 342.3,18.5 345.3,17.4 348.3,16.2 351.3,15.0 354.3,13.8 357.3,12.5 360.3,11.3 363.3,9.9 366.3,8.6 369.3,7.2 372.3,5.9 375.3,4.4 378.3,3.0 381.3,1.5 384.3,0.0 387.3,-1.5 390.3,-3.0 393.3,-4.6 396.3,-6.2 399.3,-7.8 402.3,-9.4 405.3,-11.0 408.3,-12.7 411.3,-14.4 414.3,-16.1 417.3,-17.8 420.3,-19.6 423.3,-21.4 426.3,-23.1 429.3,-24.9 432.3,-26.8 435.3,-28.6 438.3,-30.5 441.3,-32.3 444.3,-34.2 447.3,-36.1 450.3,-38.0 453.3,-40.0 456.3,-41.9 459.2,-43.8 459.2,-8.3 456.3,-6.6 453.3,-4.9 450.3,-3.2 447.3,-1.6 444.3,0.1 441.3,1.7 438.3,3.4 435.3,5.0 432.3,6.6 429.3,8.2 426.3,9.7 423.3,11.3 420.3,12.8 417.3,14.3 414.3,15.8 411.3,17.3 408.3,18.8 405.3,20.2 402.3,21.7 399.3,23.1 396.3,24.5 393.3,25.9 390.3,27.2 387.3,28.6 384.3,29.9 381.3,31.2 378.3,32.5 375.3,33.7 372.3,34.9 369.3,36.2 366.3,37.3 363.3,38.5 360.3,39.6 357.3,40.8 354.3,41.8 351.3,42.9 348.3,43.9 345.3,45.0 342.3,45.9 339.3,46.9 336.3,47.8 333.3,48.7 330.3,49.6 327.3,50.5 324.3,51.3 321.3,52.1 318.3,52.8 315.3,53.6 312.3,54.3 309.3,54.9 306.3,55.6 303.3,56.2 300.3,56.8 297.3,57.3 294.3,57.8 291.3,58.3 288.3,58.7 285.3,59.1 282.3,59.5 279.3,59.9 276.3,60.2 273.3,60.5 270.3,60.7 267.3,60.9 264.3,61.1 261.3,61.2 258.3,61.3 255.3,61.4 252.3,61.4 249.3,61.4 246.3,61.4 243.3,61.3 240.3,61.2 237.3,61.1 234.3,60.9 231.3,60.7 228.3,60.4 225.3,60.1 222.3,59.8 219.3,59.5 216.3,59.1 213.3,58.7 210.3,58.2 207.3,57.7 204.3,57.2 201.3,56.7 198.3,56.1 195.3,55.5 192.3,54.9 189.3,54.2 186.3,53.5 183.3,52.7 180.3,52.0 177.3,51.2 174.3,50.4 171.3,49.5 168.3,48.6 165.3,47.7 162.3,46.8 159.3,45.8 156.3,44.8 153.3,43.8 150.3,42.8 147.3,41.7 144.3,40.6 141.3,39.5 138.3,38.3 135.3,37.2 132.3,36.0 129.3,34.8 126.3,33.5 123.3,32.3 120.3,31.0 117.3,29.7 114.3,28.4 111.3,27.0 108.3,25.7 105.3,24.3 102.3,22.9 99.3,21.5 96.3,20.1 93.3,18.6 90.3,17.1 87.3,15.6 84.3,14.1 81.3,12.6 78.3,11.1 75.3,9.5 72.3,7.9 69.3,6.4 66.3,4.8 63.3,3.1 60.3,1.5 57.3,-0.1 54.3,-1.8"/></clipPath>
<clipPath id="c1s2"><polygon points="54.3,12.8 57.3,14.3 60.3,15.9 63.3,17.4 66.3,18.9 69.3,20.4 72.3,21.9 75.3,23.4 78.3,24.8 81.3,26.3 84.3,27.7 87.3,29.1 90.3,30.5 93.3,31.9 96.3,33.2 99.3,34.6 102.3,35.9 105.3,37.2 108.3,38.5 111.3,39.8 114.3,41.1 117.3,42.3 120.3,43.5 123.3,44.7 126.3,45.9 129.3,47.0 132.3,48.2 135.3,49.3 138.3,50.4 141.3,51.5 144.3,52.5 147.3,53.5 150.3,54.5 153.3,55.5 156.3,56.5 159.3,57.4 162.3,58.3 165.3,59.2 168.3,60.0 171.3,60.8 174.3,61.6 177.3,62.4 180.3,63.2 183.3,63.9 186.3,64.6 189.3,65.2 192.3,65.9 195.3,66.5 198.3,67.0 201.3,67.6 204.3,68.1 207.3,68.6 210.3,69.0 213.3,69.4 216.3,69.8 219.3,70.2 222.3,70.5 225.3,70.8 228.3,71.1 231.3,71.3 234.3,71.5 237.3,71.7 240.3,71.8 243.3,71.9 246.3,72.0 249.3,72.0 252.3,72.0 255.3,72.0 258.3,71.9 261.3,71.8 264.3,71.7 267.3,71.5 270.3,71.3 273.3,71.1 276.3,70.8 279.3,70.6 282.3,70.2 285.3,69.9 288.3,69.5 291.3,69.1 294.3,68.6 297.3,68.1 300.3,67.6 303.3,67.1 306.3,66.5 309.3,65.9 312.3,65.3 315.3,64.7 318.3,64.0 321.3,63.3 324.3,62.5 327.3,61.7 330.3,61.0 333.3,60.1 336.3,59.3 339.3,58.4 342.3,57.5 345.3,56.6 348.3,55.6 351.3,54.7 354.3,53.7 357.3,52.6 360.3,51.6 363.3,50.5 366.3,49.4 369.3,48.3 372.3,47.2 375.3,46.0 378.3,44.9 381.3,43.7 384.3,42.5 387.3,41.2 390.3,40.0 393.3,38.7 396.3,37.4 399.3,36.1 402.3,34.8 405.3,33.4 408.3,32.1 411.3,30.7 414.3,29.3 417.3,27.9 420.3,26.5 423.3,25.0 426.3,23.6 429.3,22.1 432.3,20.6 435.3,19.1 438.3,17.6 441.3,16.1 444.3,14.5 447.3,13.0 450.3,11.4 453.3,9.8 456.3,8.3 459.2,6.7 459.2,39.2 456.3,40.5 453.3,41.9 450.3,43.3 447.3,44.6 444.3,45.9 441.3,47.2 438.3,48.5 435.3,49.8 432.3,51.1 429.3,52.4 426.3,53.6 423.3,54.9 420.3,56.1 417.3,57.3 414.3,58.5 411.3,59.7 408.3,60.9 405.3,62.0 402.3,63.2 399.3,64.3 396.3,65.4 393.3,66.5 390.3,67.6 387.3,68.7 384.3,69.8 381.3,70.8 378.3,71.8 375.3,72.8 372.3,73.8 369.3,74.8 366.3,75.7 363.3,76.7 360.3,77.6 357.3,78.5 354.3,79.3 351.3,80.2 348.3,81.0 345.3,81.8 342.3,82.6 339.3,83.4 336.3,84.1 333.3,84.9 330.3,85.6 327.3,86.2 324.3,86.9 321.3,87.5 318.3,88.1 315.3,88.7 312.3,89.3 309.3,89.8 306.3,90.3 303.3,90.8 300.3,91.3 297.3,91.7 294.3,92.1 291.3,92.5 288.3,92.8 285.3,93.2 282.3,93.5 279.3,93.8 276.3,94.0 273.3,94.2 270.3,94.4 267.3,94.6 264.3,94.7 261.3,94.8 258.3,94.9 255.3,95.0 252.3,95.0 249.3,95.0 246.3,95.0 243.3,94.9 240.3,94.8 237.3,94.7 234.3,94.6 231.3,94.4 228.3,94.2 225.3,94.0 222.3,93.7 219.3,93.4 216.3,93.1 213.3,92.8 210.3,92.4 207.3,92.1 204.3,91.6 201.3,91.2 198.3,90.7 195.3,90.3 192.3,89.7 189.3,89.2 186.3,88.6 183.3,88.0 180.3,87.4 177.3,86.8 174.3,86.1 171.3,85.5 168.3,84.8 165.3,84.0 162.3,83.3 159.3,82.5 156.3,81.7 153.3,80.9 150.3,80.1 147.3,79.2 144.3,78.3 141.3,77.4 138.3,76.5 135.3,75.6 132.3,74.6 129.3,73.7 126.3,72.7 123.3,71.7 120.3,70.7 117.3,69.6 114.3,68.6 111.3,67.5 108.3,66.4 105.3,65.3 102.3,64.2 99.3,63.0 96.3,61.9 93.3,60.7 90.3,59.5 87.3,58.4 84.3,57.2 81.3,55.9 78.3,54.7 75.3,53.5 72.3,52.2 69.3,50.9 66.3,49.6 63.3,48.4 60.3,47.1 57.3,45.7 54.3,44.4"/></clipPath>
<clipPath id="c1s3"><polygon points="54.3,52.7 57.3,54.0 60.3,55.2 63.3,56.5 66.3,57.7 69.3,58.9 72.3,60.1 75.3,61.3 78.3,62.5 81.3,63.7 84.3,64.9 87.3,66.0 90.3,67.2 93.3,68.3 96.3,69.4 99.3,70.5 102.3,71.6 105.3,72.6 108.3,73.7 111.3,74.7 114.3,75.8 117.3,76.8 120.3,77.8 123.3,78.7 126.3,79.7 129.3,80.6 132.3,81.6 135.3,82.5 138.3,83.4 141.3,84.2 144.3,85.1 147.3,85.9 150.3,86.8 153.3,87.6 156.3,88.3 159.3,89.1 162.3,89.8 165.3,90.5 168.3,91.2 171.3,91.9 174.3,92.6 177.3,93.2 180.3,93.8 183.3,94.4 186.3,94.9 189.3,95.5 192.3,96.0 195.3,96.5 198.3,97.0 201.3,97.4 204.3,97.8 207.3,98.2 210.3,98.6 213.3,98.9 216.3,99.2 219.3,99.5 222.3,99.8 225.3,100.0 228.3,100.2 231.3,100.4 234.3,100.6 237.3,100.7 240.3,100.8 243.3,100.9 246.3,101.0 249.3,101.0 252.3,101.0 255.3,101.0 258.3,100.9 261.3,100.9 264.3,100.7 267.3,100.6 270.3,100.5 273.3,100.3 276.3,100.1 279.3,99.8 282.3,99.6 285.3,99.3 288.3,99.0 291.3,98.6 294.3,98.3 297.3,97.9 300.3,97.5 303.3,97.0 306.3,96.5 309.3,96.1 312.3,95.5 315.3,95.0 318.3,94.5 321.3,93.9 324.3,93.3 327.3,92.6 330.3,92.0 333.3,91.3 336.3,90.6 339.3,89.9 342.3,89.2 345.3,88.4 348.3,87.7 351.3,86.9 354.3,86.0 357.3,85.2 360.3,84.4 363.3,83.5 366.3,82.6 369.3,81.7 372.3,80.8 375.3,79.8 378.3,78.9 381.3,77.9 384.3,76.9 387.3,75.9 390.3,74.9 393.3,73.8 396.3,72.8 399.3,71.7 402.3,70.6 405.3,69.5 408.3,68.4 411.3,67.3 414.3,66.2 417.3,65.0 420.3,63.9 423.3,62.7 426.3,61.5 429.3,60.3 432.3,59.1 435.3,57.9 438.3,56.6 441.3,55.4 444.3,54.1 447.3,52.9 450.3,51.6 453.3,50.3 456.3,49.0 459.2,47.7 459.2,209.7 456.3,209.9 453.3,210.0 450.3,210.2 447.3,210.3 444.3,210.4 441.3,210.6 438.3,210.7 435.3,210.8 432.3,211.0 429.3,211.1 426.3,211.2 423.3,211.4 420.3,211.5 417.3,211.6 414.3,211.7 411.3,211.9 408.3,212.0 405.3,212.1 402.3,212.2 399.3,212.3 396.3,212.4 393.3,212.6 390.3,212.7 387.3,212.8 384.3,212.9 381.3,213.0 378.3,213.1 375.3,213.2 372.3,213.3 369.3,213.4 366.3,213.5 363.3,213.6 360.3,213.7 357.3,213.8 354.3,213.9 351.3,214.0 348.3,214.1 345.3,214.1 342.3,214.2 339.3,214.3 336.3,214.4 333.3,214.5 330.3,214.5 327.3,214.6 324.3,214.7 321.3,214.7 318.3,214.8 315.3,214.9 312.3,214.9 309.3,215.0 306.3,215.0 303.3,215.1 300.3,215.1 297.3,215.2 294.3,215.2 291.3,215.2 288.3,215.3 285.3,215.3 282.3,215.3 279.3,215.4 276.3,215.4 273.3,215.4 270.3,215.4 267.3,215.5 264.3,215.5 261.3,215.5 258.3,215.5 255.3,215.5 252.3,215.5 249.3,215.5 246.3,215.5 243.3,215.5 240.3,215.5 237.3,215.5 234.3,215.5 231.3,215.4 228.3,215.4 225.3,215.4 222.3,215.4 219.3,215.3 216.3,215.3 213.3,215.3 210.3,215.2 207.3,215.2 204.3,215.2 201.3,215.1 198.3,215.1 195.3,215.0 192.3,215.0 189.3,214.9 186.3,214.8 183.3,214.8 180.3,214.7 177.3,214.7 174.3,214.6 171.3,214.5 168.3,214.4 165.3,214.4 162.3,214.3 159.3,214.2 156.3,214.1 153.3,214.0 150.3,214.0 147.3,213.9 144.3,213.8 141.3,213.7 138.3,213.6 135.3,213.5 132.3,213.4 129.3,213.3 126.3,213.2 123.3,213.1 120.3,213.0 117.3,212.9 114.3,212.8 111.3,212.7 108.3,212.5 105.3,212.4 102.3,212.3 99.3,212.2 96.3,212.1 93.3,212.0 90.3,211.8 87.3,211.7 84.3,211.6 81.3,211.5 78.3,211.3 75.3,211.2 72.3,211.1 69.3,210.9 66.3,210.8 63.3,210.7 60.3,210.5 57.3,210.4 54.3,210.3"/></clipPath>
<clipPath id="c1r"><rect x="54.3" y="27.4" width="404.9" height="202"/></clipPath>
<g clip-path="url(#c1r)">
<g clip-path="url(#c1s1)"><rect x="0.0" y="0.0" width="500.0" height="260.0" fill="#cc0000"/><polygon points="308.0,27.0 320.0,27.0 320.0,39.0 308.0,39.0" fill="#ff0000"/><polygon points="230.0,20.0 276.0,20.0 276.0,61.0 240.0,61.0 230.0,48.0" fill="#ff00ff"/><polygon points="170.0,20.0 188.0,20.0 188.0,48.0 170.0,48.0" fill="#ff00ff"/><polygon points="191.0,29.0 214.0,29.0 214.0,57.0 191.0,57.0" fill="#ff00ff"/><polygon points="198.0,48.0 206.0,48.0 206.0,57.0 198.0,57.0" fill="#cc0000"/><polygon points="236.0,35.0 241.0,35.0 241.0,48.0 236.0,48.0" fill="#ff00ff"/><polygon points="340.0,33.0 344.0,33.0 344.0,37.0 340.0,37.0" fill="#ff00ff"/><polygon points="358.0,27.0 363.0,27.0 363.0,40.0 358.0,40.0" fill="#ff0000"/></g>
<g clip-path="url(#c1s2)"><rect x="0.0" y="0.0" width="500.0" height="260.0" fill="#cc0000"/><polygon points="54.0,20.0 62.0,20.0 62.0,45.0 54.0,45.0" fill="#ff00ff"/><polygon points="74.0,20.0 82.0,20.0 82.0,60.0 74.0,60.0" fill="#ff00ff"/><polygon points="82.0,20.0 87.0,20.0 87.0,57.0 82.0,57.0" fill="#ff00ff"/><polygon points="124.0,50.0 134.0,50.0 134.0,73.0 124.0,73.0" fill="#ff0000"/><polygon points="127.0,63.0 132.0,63.0 132.0,73.0 127.0,73.0" fill="#ff0000"/><polygon points="112.0,62.0 114.0,62.0 114.0,67.0 112.0,67.0" fill="#ff00ff"/><polygon points="144.0,50.0 154.0,50.0 154.0,90.0 144.0,90.0" fill="#ff00ff"/><polygon points="154.0,40.0 160.0,40.0 160.0,90.0 154.0,90.0" fill="#ff00ff"/><polygon points="176.0,50.0 194.0,50.0 194.0,95.0 176.0,95.0" fill="#ff00ff"/><polygon points="194.0,50.0 206.0,50.0 206.0,77.0 194.0,77.0" fill="#ff00ff"/><polygon points="206.0,50.0 214.0,50.0 214.0,70.0 206.0,70.0" fill="#ff00ff"/><polygon points="214.0,50.0 230.0,50.0 230.0,100.0 214.0,100.0" fill="#ff00ff"/><polygon points="242.0,55.0 254.0,55.0 254.0,86.0 242.0,86.0" fill="#ff00ff"/><polygon points="262.0,60.0 270.0,60.0 270.0,90.0 262.0,90.0" fill="#ff00ff"/><polygon points="276.0,60.0 296.0,60.0 296.0,100.0 276.0,100.0" fill="#ff00ff"/><polygon points="312.0,63.0 322.0,63.0 322.0,73.0 312.0,73.0" fill="#ff8000"/><polygon points="312.0,73.0 322.0,73.0 322.0,83.0 312.0,83.0" fill="#ff0000"/><polygon points="324.0,77.0 334.0,77.0 334.0,85.0 324.0,85.0" fill="#ff00ff"/><polygon points="330.0,63.0 336.0,63.0 336.0,79.0 330.0,79.0" fill="#ff00ff"/><polygon points="359.0,50.0 363.0,50.0 363.0,73.0 359.0,73.0" fill="#ff0000"/><polygon points="395.0,40.0 399.0,40.0 399.0,60.0 395.0,60.0" fill="#ff0000"/><polygon points="407.0,60.0 413.0,60.0 413.0,75.0 407.0,75.0" fill="#ff0000"/><polygon points="443.0,30.0 449.0,30.0 449.0,50.0 443.0,50.0" fill="#ff0000"/><polygon points="380.0,30.0 385.0,30.0 385.0,70.0 380.0,70.0" fill="#ff0000"/><polygon points="405.0,30.0 409.0,30.0 409.0,60.0 405.0,60.0" fill="#ff0000"/><polygon points="416.0,30.0 421.0,30.0 421.0,55.0 416.0,55.0" fill="#ff0000"/><polygon points="432.0,25.0 438.0,25.0 438.0,50.0 432.0,50.0" fill="#ff0000"/><polygon points="443.0,25.0 448.0,25.0 448.0,45.0 443.0,45.0" fill="#ff0000"/><polygon points="369.0,69.0 381.0,69.0 381.0,79.0 369.0,79.0" fill="#ff00ff"/><polygon points="377.0,79.0 381.0,79.0 381.0,91.0 377.0,91.0" fill="#ff00ff"/></g>
<g clip-path="url(#c1s3)"><rect x="0.0" y="0.0" width="500.0" height="260.0" fill="#cc0000"/><polygon points="58.0,40.0 68.0,40.0 68.0,110.0 58.0,110.0" fill="#ff00ff"/><polygon points="54.0,100.0 66.0,100.0 66.0,116.0 54.0,116.0" fill="#ff00ff"/><polygon points="74.0,60.0 82.0,60.0 82.0,100.0 74.0,100.0" fill="#ff00ff"/><polygon points="82.0,60.0 134.0,60.0 134.0,104.0 82.0,104.0" fill="#ff00ff"/><polygon points="140.0,60.0 172.0,60.0 172.0,114.0 140.0,114.0" fill="#ff00ff"/><polygon points="154.0,80.0 164.0,80.0 164.0,114.0 154.0,114.0" fill="#cc0000"/><polygon points="184.0,90.0 254.0,90.0 254.0,124.0 184.0,124.0" fill="#ff00ff"/><polygon points="194.0,110.0 200.0,110.0 200.0,124.0 194.0,124.0" fill="#cc0000"/><polygon points="190.0,108.0 194.0,108.0 194.0,140.0 190.0,140.0" fill="#cc0000"/><polygon points="380.0,76.0 391.0,76.0 391.0,112.0 380.0,112.0" fill="#ff0000"/><polygon points="398.0,80.0 403.0,80.0 403.0,112.0 398.0,112.0" fill="#ff0000"/><polygon points="411.0,72.0 416.0,72.0 416.0,112.0 411.0,112.0" fill="#ff0000"/><polygon points="438.0,85.0 459.0,85.0 459.0,112.0 438.0,112.0" fill="#ff0000"/><polygon points="430.0,90.0 439.0,90.0 439.0,112.0 430.0,112.0" fill="#ff8000"/><polygon points="359.0,70.0 366.0,70.0 366.0,100.0 359.0,100.0" fill="#ff0000"/><polygon points="370.0,95.0 376.0,95.0 376.0,112.0 370.0,112.0" fill="#ff0000"/><polygon points="447.0,104.0 455.0,104.0 455.0,112.0 447.0,112.0" fill="#ff00ff"/><polygon points="54.0,104.0 459.0,104.0 459.0,142.0 54.0,142.0" fill="#cc0000"/><polygon points="254.0,95.0 266.0,95.0 266.0,116.0 254.0,116.0" fill="#ff00ff"/><polygon points="272.0,108.0 284.0,108.0 284.0,124.0 272.0,124.0" fill="#ff00ff"/><polygon points="296.0,112.0 308.0,112.0 308.0,122.0 296.0,122.0" fill="#ff00ff"/><polygon points="257.0,90.0 262.0,90.0 262.0,104.0 257.0,104.0" fill="#ff00ff"/><polygon points="128.0,108.0 138.0,108.0 138.0,134.0 128.0,134.0" fill="#ff0000"/><polygon points="174.0,124.0 222.0,124.0 222.0,140.0 174.0,140.0" fill="#ff0000"/><polygon points="262.0,126.0 338.0,126.0 338.0,144.0 262.0,144.0" fill="#ff0000"/><polygon points="359.0,128.0 365.0,128.0 365.0,140.0 359.0,140.0" fill="#ff0000"/><polygon points="435.0,110.0 459.0,110.0 459.0,142.0 435.0,142.0" fill="#ff0000"/><polygon points="420.0,95.0 430.0,95.0 430.0,126.0 420.0,126.0" fill="#ff0000"/><polygon points="440.0,95.0 446.0,95.0 446.0,126.0 440.0,126.0" fill="#ff0000"/><polygon points="359.0,105.0 369.0,105.0 369.0,128.0 359.0,128.0" fill="#ff0000"/><polygon points="54.0,118.0 68.0,118.0 68.0,140.0 54.0,140.0" fill="#ffff00"/><polygon points="68.0,124.0 80.0,124.0 80.0,141.0 68.0,141.0" fill="#e6b800"/><polygon points="70.0,128.0 76.0,128.0 76.0,141.0 70.0,141.0" fill="#ff8000"/><polygon points="94.0,128.0 144.0,132.0 154.0,138.0 154.0,150.0 94.0,150.0" fill="#ff8000"/><polygon points="110.0,130.0 122.0,130.0 122.0,150.0 110.0,150.0" fill="#e6b800"/><polygon points="124.0,130.0 128.0,130.0 128.0,150.0 124.0,150.0" fill="#ffff00"/><polygon points="134.0,134.0 144.0,134.0 144.0,150.0 134.0,150.0" fill="#e6b800"/><polygon points="144.0,140.0 154.0,140.0 154.0,152.0 144.0,152.0" fill="#ffff00"/><polygon points="154.0,138.0 206.0,138.0 206.0,144.0 154.0,144.0" fill="#ffff00"/><polygon points="206.0,140.0 222.0,140.0 222.0,160.0 206.0,160.0" fill="#ffff00"/><polygon points="220.0,128.0 228.0,128.0 228.0,156.0 220.0,156.0" fill="#ff8000"/><polygon points="254.0,126.0 262.0,126.0 262.0,170.0 254.0,170.0" fill="#ffff00"/><polygon points="262.0,136.0 270.0,136.0 270.0,146.0 262.0,146.0" fill="#ff8000"/><polygon points="274.0,136.0 294.0,136.0 294.0,146.0 274.0,146.0" fill="#e6b800"/><polygon points="294.0,138.0 300.0,138.0 300.0,146.0 294.0,146.0" fill="#ff8000"/><polygon points="262.0,142.0 338.0,141.0 338.0,145.0 262.0,145.0" fill="#ffff00"/><polygon points="395.0,128.0 411.0,128.0 411.0,146.0 395.0,146.0" fill="#ffff00"/><polygon points="409.0,124.0 443.0,124.0 443.0,144.0 409.0,144.0" fill="#ff8000"/><polygon points="411.0,128.0 425.0,128.0 425.0,144.0 411.0,144.0" fill="#e6b800"/><polygon points="411.0,140.0 459.0,139.0 459.0,144.0 411.0,144.0" fill="#ffff00"/><polygon points="383.0,138.0 395.0,138.0 395.0,146.0 383.0,146.0" fill="#ffff00"/><polygon points="54.0,160.0 100.0,165.0 104.0,171.0 153.0,171.0 154.0,164.0 206.0,162.0 254.0,166.0 338.0,166.0 359.0,170.0 383.0,170.0 393.0,166.0 459.0,162.0 459.0,182.0 360.0,184.0 254.0,185.0 160.0,185.0 100.0,183.0 54.0,180.0" fill="#ff0000"/><polygon points="54.0,162.0 100.0,167.0 104.0,173.0 153.0,173.0 154.0,166.0 206.0,164.0 254.0,168.0 338.0,168.0 359.0,172.0 383.0,172.0 393.0,168.0 459.0,164.0 459.0,169.0 393.0,173.0 383.0,177.0 359.0,177.0 338.0,173.0 254.0,173.0 206.0,169.0 154.0,171.0 153.0,178.0 104.0,178.0 100.0,172.0 54.0,167.0" fill="#ff8000"/><polygon points="54.0,158.0 100.0,163.0 104.0,169.0 153.0,169.0 154.0,162.0 206.0,160.0 254.0,164.0 338.0,164.0 359.0,168.0 383.0,168.0 393.0,164.0 459.0,160.0 459.0,166.0 393.0,170.0 383.0,174.0 359.0,174.0 338.0,170.0 254.0,170.0 206.0,166.0 154.0,168.0 153.0,175.0 104.0,175.0 100.0,169.0 54.0,164.0" fill="#ffff00"/><polygon points="54.0,138.0 68.0,138.0 68.0,140.0 80.0,140.0 80.0,126.0 100.0,126.0 100.0,150.0 153.0,152.0 154.0,142.0 206.0,142.0 206.0,162.0 154.0,164.0 153.0,171.0 104.0,171.0 100.0,165.0 54.0,160.0" fill="#00b400"/><polygon points="54.0,138.0 80.0,140.0 80.0,126.0 100.0,126.0 100.0,140.0 80.0,144.0 54.0,144.0" fill="#00ff00"/><polygon points="60.0,146.0 64.0,146.0 64.0,158.0 60.0,158.0" fill="#008000"/><polygon points="70.0,148.0 74.0,148.0 74.0,158.0 70.0,158.0" fill="#008000"/><polygon points="94.0,128.0 97.0,128.0 97.0,131.0 94.0,131.0" fill="#0000ff"/><polygon points="81.0,144.0 84.0,144.0 84.0,150.0 81.0,150.0" fill="#0000ff"/><polygon points="86.0,146.0 94.0,146.0 94.0,164.0 86.0,164.0" fill="#00eeee"/><polygon points="87.0,152.0 91.0,152.0 91.0,158.0 87.0,158.0" fill="#ffffff"/><polygon points="94.0,152.0 99.0,152.0 99.0,162.0 94.0,162.0" fill="#0000ff"/><polygon points="100.0,150.0 153.0,152.0 153.0,157.0 100.0,155.0" fill="#00ff00"/><polygon points="118.0,155.0 133.0,155.0 133.0,169.0 118.0,169.0" fill="#0000ff"/><polygon points="122.0,158.0 126.0,158.0 126.0,166.0 122.0,166.0" fill="#1e90ff"/><polygon points="154.0,142.0 206.0,142.0 206.0,162.0 154.0,162.0" fill="#00ff00"/><polygon points="160.0,144.0 202.0,144.0 202.0,160.0 160.0,160.0" fill="#0000ff"/><polygon points="158.0,146.0 162.0,146.0 162.0,160.0 158.0,160.0" fill="#00ff00"/><polygon points="166.0,146.0 172.0,146.0 172.0,160.0 166.0,160.0" fill="#1e90ff"/><polygon points="180.0,146.0 182.0,146.0 182.0,160.0 180.0,160.0" fill="#1e90ff"/><polygon points="188.0,146.0 192.0,146.0 192.0,160.0 188.0,160.0" fill="#1e90ff"/><polygon points="206.0,146.0 220.0,146.0 220.0,162.0 206.0,162.0" fill="#00ff00"/><polygon points="210.0,150.0 218.0,150.0 218.0,162.0 210.0,162.0" fill="#00b400"/><polygon points="222.0,126.0 254.0,126.0 254.0,166.0 222.0,166.0" fill="#00ff00"/><polygon points="226.0,132.0 252.0,132.0 252.0,150.0 226.0,150.0" fill="#00b400"/><polygon points="228.0,138.0 246.0,138.0 246.0,152.0 228.0,152.0" fill="#0000ff"/><polygon points="232.0,140.0 240.0,140.0 240.0,148.0 232.0,148.0" fill="#1e90ff"/><polygon points="224.0,152.0 254.0,152.0 254.0,164.0 224.0,164.0" fill="#00b400"/><polygon points="268.0,144.0 338.0,144.0 338.0,166.0 268.0,166.0" fill="#00b400"/><polygon points="270.0,148.0 280.0,148.0 280.0,164.0 270.0,164.0" fill="#008000"/><polygon points="282.0,150.0 292.0,150.0 292.0,164.0 282.0,164.0" fill="#008000"/><polygon points="284.0,148.0 290.0,148.0 290.0,154.0 284.0,154.0" fill="#ffff00"/><polygon points="294.0,146.0 302.0,146.0 302.0,166.0 294.0,166.0" fill="#00ff00"/><polygon points="302.0,148.0 306.0,148.0 306.0,162.0 302.0,162.0" fill="#0000ff"/><polygon points="306.0,146.0 312.0,146.0 312.0,164.0 306.0,164.0" fill="#1e90ff"/><polygon points="312.0,146.0 314.0,146.0 314.0,160.0 312.0,160.0" fill="#ffffff"/><polygon points="314.0,142.0 338.0,142.0 338.0,162.0 314.0,162.0" fill="#00eeee"/><polygon points="322.0,146.0 334.0,146.0 334.0,158.0 322.0,158.0" fill="#ffffff"/><polygon points="306.0,162.0 338.0,162.0 338.0,164.0 306.0,164.0" fill="#0000ff"/><polygon points="338.0,138.0 354.0,138.0 354.0,166.0 338.0,166.0" fill="#00ff00"/><polygon points="344.0,140.0 354.0,140.0 354.0,160.0 344.0,160.0" fill="#00b400"/><polygon points="359.0,134.0 383.0,134.0 383.0,170.0 359.0,170.0" fill="#00b400"/><polygon points="359.0,140.0 363.0,140.0 363.0,168.0 359.0,168.0" fill="#00ff00"/><polygon points="363.0,136.0 381.0,136.0 381.0,158.0 363.0,158.0" fill="#0000ff"/><polygon points="365.0,138.0 377.0,138.0 377.0,156.0 365.0,156.0" fill="#00eeee"/><polygon points="368.0,140.0 374.0,140.0 374.0,154.0 368.0,154.0" fill="#ffffff"/><polygon points="363.0,160.0 381.0,160.0 381.0,168.0 363.0,168.0" fill="#00ff00"/><polygon points="383.0,140.0 393.0,140.0 393.0,166.0 383.0,166.0" fill="#00ff00"/><polygon points="393.0,132.0 409.0,132.0 409.0,166.0 393.0,166.0" fill="#00b400"/><polygon points="395.0,130.0 399.0,130.0 399.0,148.0 395.0,148.0" fill="#00ff00"/><polygon points="393.0,152.0 397.0,152.0 397.0,164.0 393.0,164.0" fill="#0000ff"/><polygon points="399.0,154.0 403.0,154.0 403.0,164.0 399.0,164.0" fill="#0000ff"/><polygon points="405.0,152.0 409.0,152.0 409.0,164.0 405.0,164.0" fill="#0000ff"/><polygon points="417.0,142.0 459.0,142.0 459.0,162.0 417.0,162.0" fill="#00b400"/><polygon points="417.0,144.0 426.0,144.0 426.0,160.0 417.0,160.0" fill="#00ff00"/><polygon points="432.0,146.0 440.0,146.0 440.0,160.0 432.0,160.0" fill="#00ff00"/><polygon points="435.0,144.0 443.0,144.0 443.0,162.0 435.0,162.0" fill="#008000"/><polygon points="208.0,180.0 218.0,170.0 254.0,169.0 254.0,199.0 218.0,199.0 208.0,192.0" fill="#ff00ff"/><polygon points="168.0,203.0 178.0,203.0 178.0,215.0 168.0,215.0" fill="#ff8000"/><polygon points="190.0,205.0 200.0,205.0 200.0,215.0 190.0,215.0" fill="#e6b800"/><polygon points="206.0,208.0 218.0,208.0 218.0,215.0 206.0,215.0" fill="#ff8000"/><polygon points="228.0,207.0 242.0,207.0 242.0,215.0 228.0,215.0" fill="#ff8000"/><polygon points="260.0,209.0 266.0,209.0 266.0,215.0 260.0,215.0" fill="#ff8000"/><polygon points="300.0,168.0 320.0,168.0 320.0,215.0 300.0,215.0" fill="#ff0000"/><polygon points="254.0,191.0 459.0,187.0 459.0,211.0 254.0,215.0" fill="#ff0000"/><polygon points="330.0,178.0 359.0,178.0 359.0,198.0 330.0,198.0" fill="#cc0000"/><polygon points="280.0,205.0 300.0,205.0 300.0,215.0 280.0,215.0" fill="#ff8000"/><polygon points="284.0,207.0 296.0,207.0 296.0,215.0 284.0,215.0" fill="#e6b800"/><polygon points="290.0,211.0 294.0,211.0 294.0,215.0 290.0,215.0" fill="#008000"/><polygon points="322.0,209.0 330.0,209.0 330.0,215.0 322.0,215.0" fill="#ff8000"/><polygon points="254.0,171.0 256.0,171.0 256.0,195.0 254.0,195.0" fill="#ff00ff"/><polygon points="260.0,185.0 266.0,185.0 266.0,188.0 260.0,188.0" fill="#ff00ff"/><polygon points="54.0,199.0 150.0,203.0 150.0,215.0 54.0,215.0" fill="#ff0000"/></g>
</g>
<polyline points="54.3,193.2 257,229.4 459.2,193.2" fill="none" stroke="#000" stroke-opacity="0.5" stroke-width="0.75"/>
<path d="M54.5,27.4V229.4H459.2V27.4" fill="none" stroke="#aaa" stroke-width="0.9"/>
<line x1="51" y1="27.4" x2="54.5" y2="27.4" stroke="#999" stroke-width="0.8"/>
<line x1="459.2" y1="27.4" x2="462.5" y2="27.4" stroke="#bbb" stroke-width="0.6"/>
<text x="40.4" y="30.9" text-anchor="end" class="t">5.0</text>
<line x1="51" y1="67.8" x2="54.5" y2="67.8" stroke="#999" stroke-width="0.8"/>
<line x1="459.2" y1="67.8" x2="462.5" y2="67.8" stroke="#bbb" stroke-width="0.6"/>
<text x="40.4" y="71.3" text-anchor="end" class="t">4.0</text>
<line x1="51" y1="108.2" x2="54.5" y2="108.2" stroke="#999" stroke-width="0.8"/>
<line x1="459.2" y1="108.2" x2="462.5" y2="108.2" stroke="#bbb" stroke-width="0.6"/>
<text x="40.4" y="111.7" text-anchor="end" class="t">3.0</text>
<line x1="51" y1="148.6" x2="54.5" y2="148.6" stroke="#999" stroke-width="0.8"/>
<line x1="459.2" y1="148.6" x2="462.5" y2="148.6" stroke="#bbb" stroke-width="0.6"/>
<text x="40.4" y="152.1" text-anchor="end" class="t">2.0</text>
<line x1="51" y1="189.0" x2="54.5" y2="189.0" stroke="#999" stroke-width="0.8"/>
<line x1="459.2" y1="189.0" x2="462.5" y2="189.0" stroke="#bbb" stroke-width="0.6"/>
<text x="40.4" y="192.5" text-anchor="end" class="t">1.0</text>
<text x="7" y="31.2" class="t">km</text>
<line x1="57.6" y1="226" x2="57.6" y2="232.5" stroke="#999" stroke-width="0.8"/>
<text x="57.6" y="239.8" text-anchor="middle" class="t">30 km</text>
<line x1="107.6" y1="226" x2="107.6" y2="232.5" stroke="#999" stroke-width="0.8"/>
<text x="107.6" y="239.8" text-anchor="middle" class="t">22 km</text>
<line x1="157.6" y1="226" x2="157.6" y2="232.5" stroke="#999" stroke-width="0.8"/>
<text x="157.6" y="239.8" text-anchor="middle" class="t">15 km</text>
<line x1="207.6" y1="226" x2="207.6" y2="232.5" stroke="#999" stroke-width="0.8"/>
<text x="207.6" y="239.8" text-anchor="middle" class="t">7 km</text>
<line x1="257.6" y1="226" x2="257.6" y2="232.5" stroke="#999" stroke-width="0.8"/>
<text x="257.6" y="239.8" text-anchor="middle" class="t">0 km</text>
<line x1="307.6" y1="226" x2="307.6" y2="232.5" stroke="#999" stroke-width="0.8"/>
<text x="307.6" y="239.8" text-anchor="middle" class="t">7 km</text>
<line x1="357.6" y1="226" x2="357.6" y2="232.5" stroke="#999" stroke-width="0.8"/>
<text x="357.6" y="239.8" text-anchor="middle" class="t">15 km</text>
<line x1="407.6" y1="226" x2="407.6" y2="232.5" stroke="#999" stroke-width="0.8"/>
<text x="407.6" y="239.8" text-anchor="middle" class="t">22 km</text>
<line x1="457.6" y1="226" x2="457.6" y2="232.5" stroke="#999" stroke-width="0.8"/>
<text x="457.6" y="239.8" text-anchor="middle" class="t">30 km</text>
<text x="28.6" y="246.2" class="t">Heading 0 deg</text>
<text x="489.4" y="246.2" text-anchor="end" class="t">Heading 180 deg</text>
<text x="256.5" y="15.1" text-anchor="middle" class="ti">KTLX RhoHV from 20220223-134106 to 20220223-134106</text>
<text x="7.3" y="16.4" class="lb" textLength="13.8" lengthAdjust="spacingAndGlyphs">b)</text>
<rect x="465.4" y="27.90" width="6.5" height="13.73" fill="#9955cc"/>
<rect x="465.4" y="41.33" width="6.5" height="13.73" fill="#ff00ff"/>
<rect x="465.4" y="54.76" width="6.5" height="13.73" fill="#b40000"/>
<rect x="465.4" y="68.19" width="6.5" height="13.73" fill="#cc0000"/>
<rect x="465.4" y="81.61" width="6.5" height="13.73" fill="#ff0000"/>
<rect x="465.4" y="95.04" width="6.5" height="13.73" fill="#ff8000"/>
<rect x="465.4" y="108.47" width="6.5" height="13.73" fill="#e6b800"/>
<rect x="465.4" y="121.90" width="6.5" height="13.73" fill="#ffff00"/>
<rect x="465.4" y="135.33" width="6.5" height="13.73" fill="#008000"/>
<rect x="465.4" y="148.76" width="6.5" height="13.73" fill="#00b400"/>
<rect x="465.4" y="162.19" width="6.5" height="13.73" fill="#00ff00"/>
<rect x="465.4" y="175.61" width="6.5" height="13.73" fill="#0000ff"/>
<rect x="465.4" y="189.04" width="6.5" height="13.73" fill="#1e90ff"/>
<rect x="465.4" y="202.47" width="6.5" height="13.73" fill="#00eeee"/>
<text x="474.2" y="41.5" class="t">1.000</text>
<text x="474.2" y="55.0" class="t">0.995</text>
<text x="474.2" y="68.4" class="t">0.990</text>
<text x="474.2" y="81.8" class="t">0.985</text>
<text x="474.2" y="95.2" class="t">0.980</text>
<text x="474.2" y="108.7" class="t">0.975</text>
<text x="474.2" y="122.1" class="t">0.970</text>
<text x="474.2" y="135.5" class="t">0.965</text>
<text x="474.2" y="149.0" class="t">0.960</text>
<text x="474.2" y="162.4" class="t">0.950</text>
<text x="474.2" y="175.8" class="t">0.940</text>
<text x="474.2" y="189.2" class="t">0.930</text>
<text x="474.2" y="202.7" class="t">0.920</text>
<text x="474.2" y="216.1" class="t">0.910</text>
<text x="474.2" y="229.5" class="t">0.900</text>
<path d="M4.6,143.8H18V139.6L22.2,148.1L18,156.6V152.6H4.6Z" fill="#ff0000" stroke="#4a6fb0" stroke-width="0.5"/>
<path d="M4.6,205H18.5V201.4L22.7,209.7L18.5,218V214H4.6Z" fill="url(#dots)" stroke="#5a86c8" stroke-width="0.5"/>
</g>
<g transform="translate(0,506)">
<clipPath id="c2s1"><polygon points="54.3,-36.4 57.3,-34.5 60.3,-32.6 63.3,-30.7 66.3,-28.9 69.3,-27.0 72.3,-25.2 75.3,-23.4 78.3,-21.6 81.3,-19.8 84.3,-18.1 87.3,-16.3 90.3,-14.6 93.3,-12.9 96.3,-11.3 99.3,-9.6 102.3,-8.0 105.3,-6.4 108.3,-4.8 111.3,-3.2 114.3,-1.7 117.3,-0.2 120.3,1.3 123.3,2.8 126.3,4.2 129.3,5.7 132.3,7.1 135.3,8.4 138.3,9.8 141.3,11.1 144.3,12.4 147.3,13.6 150.3,14.8 153.3,16.0 156.3,17.2 159.3,18.4 162.3,19.5 165.3,20.5 168.3,21.6 171.3,22.6 174.3,23.6 177.3,24.5 180.3,25.4 183.3,26.3 186.3,27.2 189.3,28.0 192.3,28.7 195.3,29.5 198.3,30.2 201.3,30.9 204.3,31.5 207.3,32.1 210.3,32.6 213.3,33.1 216.3,33.6 219.3,34.1 222.3,34.5 225.3,34.8 228.3,35.1 231.3,35.4 234.3,35.7 237.3,35.9 240.3,36.0 243.3,36.2 246.3,36.2 249.3,36.3 252.3,36.3 255.3,36.2 258.3,36.2 261.3,36.1 264.3,35.9 267.3,35.7 270.3,35.5 273.3,35.2 276.3,34.9 279.3,34.5 282.3,34.1 285.3,33.7 288.3,33.2 291.3,32.7 294.3,32.1 297.3,31.6 300.3,30.9 303.3,30.3 306.3,29.6 309.3,28.8 312.3,28.1 315.3,27.3 318.3,26.4 321.3,25.6 324.3,24.6 327.3,23.7 330.3,22.7 333.3,21.7 336.3,20.7 339.3,19.6 342.3,18.5 345.3,17.4 348.3,16.2 351.3,15.0 354.3,13.8 357.3,12.5 360.3,11.3 363.3,9.9 366.3,8.6 369.3,7.2 372.3,5.9 375.3,4.4 378.3,3.0 381.3,1.5 384.3,0.0 387.3,-1.5 390.3,-3.0 393.3,-4.6 396.3,-6.2 399.3,-7.8 402.3,-9.4 405.3,-11.0 408.3,-12.7 411.3,-14.4 414.3,-16.1 417.3,-17.8 420.3,-19.6 423.3,-21.4 426.3,-23.1 429.3,-24.9 432.3,-26.8 435.3,-28.6 438.3,-30.5 441.3,-32.3 444.3,-34.2 447.3,-36.1 450.3,-38.0 453.3,-40.0 456.3,-41.9 459.2,-43.8 459.2,-8.3 456.3,-6.6 453.3,-4.9 450.3,-3.2 447.3,-1.6 444.3,0.1 441.3,1.7 438.3,3.4 435.3,5.0 432.3,6.6 429.3,8.2 426.3,9.7 423.3,11.3 420.3,12.8 417.3,14.3 414.3,15.8 411.3,17.3 408.3,18.8 405.3,20.2 402.3,21.7 399.3,23.1 396.3,24.5 393.3,25.9 390.3,27.2 387.3,28.6 384.3,29.9 381.3,31.2 378.3,32.5 375.3,33.7 372.3,34.9 369.3,36.2 366.3,37.3 363.3,38.5 360.3,39.6 357.3,40.8 354.3,41.8 351.3,42.9 348.3,43.9 345.3,45.0 342.3,45.9 339.3,46.9 336.3,47.8 333.3,48.7 330.3,49.6 327.3,50.5 324.3,51.3 321.3,52.1 318.3,52.8 315.3,53.6 312.3,54.3 309.3,54.9 306.3,55.6 303.3,56.2 300.3,56.8 297.3,57.3 294.3,57.8 291.3,58.3 288.3,58.7 285.3,59.1 282.3,59.5 279.3,59.9 276.3,60.2 273.3,60.5 270.3,60.7 267.3,60.9 264.3,61.1 261.3,61.2 258.3,61.3 255.3,61.4 252.3,61.4 249.3,61.4 246.3,61.4 243.3,61.3 240.3,61.2 237.3,61.1 234.3,60.9 231.3,60.7 228.3,60.4 225.3,60.1 222.3,59.8 219.3,59.5 216.3,59.1 213.3,58.7 210.3,58.2 207.3,57.7 204.3,57.2 201.3,56.7 198.3,56.1 195.3,55.5 192.3,54.9 189.3,54.2 186.3,53.5 183.3,52.7 180.3,52.0 177.3,51.2 174.3,50.4 171.3,49.5 168.3,48.6 165.3,47.7 162.3,46.8 159.3,45.8 156.3,44.8 153.3,43.8 150.3,42.8 147.3,41.7 144.3,40.6 141.3,39.5 138.3,38.3 135.3,37.2 132.3,36.0 129.3,34.8 126.3,33.5 123.3,32.3 120.3,31.0 117.3,29.7 114.3,28.4 111.3,27.0 108.3,25.7 105.3,24.3 102.3,22.9 99.3,21.5 96.3,20.1 93.3,18.6 90.3,17.1 87.3,15.6 84.3,14.1 81.3,12.6 78.3,11.1 75.3,9.5 72.3,7.9 69.3,6.4 66.3,4.8 63.3,3.1 60.3,1.5 57.3,-0.1 54.3,-1.8"/></clipPath>
<clipPath id="c2s2"><polygon points="54.3,12.8 57.3,14.3 60.3,15.9 63.3,17.4 66.3,18.9 69.3,20.4 72.3,21.9 75.3,23.4 78.3,24.8 81.3,26.3 84.3,27.7 87.3,29.1 90.3,30.5 93.3,31.9 96.3,33.2 99.3,34.6 102.3,35.9 105.3,37.2 108.3,38.5 111.3,39.8 114.3,41.1 117.3,42.3 120.3,43.5 123.3,44.7 126.3,45.9 129.3,47.0 132.3,48.2 135.3,49.3 138.3,50.4 141.3,51.5 144.3,52.5 147.3,53.5 150.3,54.5 153.3,55.5 156.3,56.5 159.3,57.4 162.3,58.3 165.3,59.2 168.3,60.0 171.3,60.8 174.3,61.6 177.3,62.4 180.3,63.2 183.3,63.9 186.3,64.6 189.3,65.2 192.3,65.9 195.3,66.5 198.3,67.0 201.3,67.6 204.3,68.1 207.3,68.6 210.3,69.0 213.3,69.4 216.3,69.8 219.3,70.2 222.3,70.5 225.3,70.8 228.3,71.1 231.3,71.3 234.3,71.5 237.3,71.7 240.3,71.8 243.3,71.9 246.3,72.0 249.3,72.0 252.3,72.0 255.3,72.0 258.3,71.9 261.3,71.8 264.3,71.7 267.3,71.5 270.3,71.3 273.3,71.1 276.3,70.8 279.3,70.6 282.3,70.2 285.3,69.9 288.3,69.5 291.3,69.1 294.3,68.6 297.3,68.1 300.3,67.6 303.3,67.1 306.3,66.5 309.3,65.9 312.3,65.3 315.3,64.7 318.3,64.0 321.3,63.3 324.3,62.5 327.3,61.7 330.3,61.0 333.3,60.1 336.3,59.3 339.3,58.4 342.3,57.5 345.3,56.6 348.3,55.6 351.3,54.7 354.3,53.7 357.3,52.6 360.3,51.6 363.3,50.5 366.3,49.4 369.3,48.3 372.3,47.2 375.3,46.0 378.3,44.9 381.3,43.7 384.3,42.5 387.3,41.2 390.3,40.0 393.3,38.7 396.3,37.4 399.3,36.1 402.3,34.8 405.3,33.4 408.3,32.1 411.3,30.7 414.3,29.3 417.3,27.9 420.3,26.5 423.3,25.0 426.3,23.6 429.3,22.1 432.3,20.6 435.3,19.1 438.3,17.6 441.3,16.1 444.3,14.5 447.3,13.0 450.3,11.4 453.3,9.8 456.3,8.3 459.2,6.7 459.2,39.2 456.3,40.5 453.3,41.9 450.3,43.3 447.3,44.6 444.3,45.9 441.3,47.2 438.3,48.5 435.3,49.8 432.3,51.1 429.3,52.4 426.3,53.6 423.3,54.9 420.3,56.1 417.3,57.3 414.3,58.5 411.3,59.7 408.3,60.9 405.3,62.0 402.3,63.2 399.3,64.3 396.3,65.4 393.3,66.5 390.3,67.6 387.3,68.7 384.3,69.8 381.3,70.8 378.3,71.8 375.3,72.8 372.3,73.8 369.3,74.8 366.3,75.7 363.3,76.7 360.3,77.6 357.3,78.5 354.3,79.3 351.3,80.2 348.3,81.0 345.3,81.8 342.3,82.6 339.3,83.4 336.3,84.1 333.3,84.9 330.3,85.6 327.3,86.2 324.3,86.9 321.3,87.5 318.3,88.1 315.3,88.7 312.3,89.3 309.3,89.8 306.3,90.3 303.3,90.8 300.3,91.3 297.3,91.7 294.3,92.1 291.3,92.5 288.3,92.8 285.3,93.2 282.3,93.5 279.3,93.8 276.3,94.0 273.3,94.2 270.3,94.4 267.3,94.6 264.3,94.7 261.3,94.8 258.3,94.9 255.3,95.0 252.3,95.0 249.3,95.0 246.3,95.0 243.3,94.9 240.3,94.8 237.3,94.7 234.3,94.6 231.3,94.4 228.3,94.2 225.3,94.0 222.3,93.7 219.3,93.4 216.3,93.1 213.3,92.8 210.3,92.4 207.3,92.1 204.3,91.6 201.3,91.2 198.3,90.7 195.3,90.3 192.3,89.7 189.3,89.2 186.3,88.6 183.3,88.0 180.3,87.4 177.3,86.8 174.3,86.1 171.3,85.5 168.3,84.8 165.3,84.0 162.3,83.3 159.3,82.5 156.3,81.7 153.3,80.9 150.3,80.1 147.3,79.2 144.3,78.3 141.3,77.4 138.3,76.5 135.3,75.6 132.3,74.6 129.3,73.7 126.3,72.7 123.3,71.7 120.3,70.7 117.3,69.6 114.3,68.6 111.3,67.5 108.3,66.4 105.3,65.3 102.3,64.2 99.3,63.0 96.3,61.9 93.3,60.7 90.3,59.5 87.3,58.4 84.3,57.2 81.3,55.9 78.3,54.7 75.3,53.5 72.3,52.2 69.3,50.9 66.3,49.6 63.3,48.4 60.3,47.1 57.3,45.7 54.3,44.4"/></clipPath>
<clipPath id="c2s3"><polygon points="54.3,52.7 57.3,54.0 60.3,55.2 63.3,56.5 66.3,57.7 69.3,58.9 72.3,60.1 75.3,61.3 78.3,62.5 81.3,63.7 84.3,64.9 87.3,66.0 90.3,67.2 93.3,68.3 96.3,69.4 99.3,70.5 102.3,71.6 105.3,72.6 108.3,73.7 111.3,74.7 114.3,75.8 117.3,76.8 120.3,77.8 123.3,78.7 126.3,79.7 129.3,80.6 132.3,81.6 135.3,82.5 138.3,83.4 141.3,84.2 144.3,85.1 147.3,85.9 150.3,86.8 153.3,87.6 156.3,88.3 159.3,89.1 162.3,89.8 165.3,90.5 168.3,91.2 171.3,91.9 174.3,92.6 177.3,93.2 180.3,93.8 183.3,94.4 186.3,94.9 189.3,95.5 192.3,96.0 195.3,96.5 198.3,97.0 201.3,97.4 204.3,97.8 207.3,98.2 210.3,98.6 213.3,98.9 216.3,99.2 219.3,99.5 222.3,99.8 225.3,100.0 228.3,100.2 231.3,100.4 234.3,100.6 237.3,100.7 240.3,100.8 243.3,100.9 246.3,101.0 249.3,101.0 252.3,101.0 255.3,101.0 258.3,100.9 261.3,100.9 264.3,100.7 267.3,100.6 270.3,100.5 273.3,100.3 276.3,100.1 279.3,99.8 282.3,99.6 285.3,99.3 288.3,99.0 291.3,98.6 294.3,98.3 297.3,97.9 300.3,97.5 303.3,97.0 306.3,96.5 309.3,96.1 312.3,95.5 315.3,95.0 318.3,94.5 321.3,93.9 324.3,93.3 327.3,92.6 330.3,92.0 333.3,91.3 336.3,90.6 339.3,89.9 342.3,89.2 345.3,88.4 348.3,87.7 351.3,86.9 354.3,86.0 357.3,85.2 360.3,84.4 363.3,83.5 366.3,82.6 369.3,81.7 372.3,80.8 375.3,79.8 378.3,78.9 381.3,77.9 384.3,76.9 387.3,75.9 390.3,74.9 393.3,73.8 396.3,72.8 399.3,71.7 402.3,70.6 405.3,69.5 408.3,68.4 411.3,67.3 414.3,66.2 417.3,65.0 420.3,63.9 423.3,62.7 426.3,61.5 429.3,60.3 432.3,59.1 435.3,57.9 438.3,56.6 441.3,55.4 444.3,54.1 447.3,52.9 450.3,51.6 453.3,50.3 456.3,49.0 459.2,47.7 459.2,209.7 456.3,209.9 453.3,210.0 450.3,210.2 447.3,210.3 444.3,210.4 441.3,210.6 438.3,210.7 435.3,210.8 432.3,211.0 429.3,211.1 426.3,211.2 423.3,211.4 420.3,211.5 417.3,211.6 414.3,211.7 411.3,211.9 408.3,212.0 405.3,212.1 402.3,212.2 399.3,212.3 396.3,212.4 393.3,212.6 390.3,212.7 387.3,212.8 384.3,212.9 381.3,213.0 378.3,213.1 375.3,213.2 372.3,213.3 369.3,213.4 366.3,213.5 363.3,213.6 360.3,213.7 357.3,213.8 354.3,213.9 351.3,214.0 348.3,214.1 345.3,214.1 342.3,214.2 339.3,214.3 336.3,214.4 333.3,214.5 330.3,214.5 327.3,214.6 324.3,214.7 321.3,214.7 318.3,214.8 315.3,214.9 312.3,214.9 309.3,215.0 306.3,215.0 303.3,215.1 300.3,215.1 297.3,215.2 294.3,215.2 291.3,215.2 288.3,215.3 285.3,215.3 282.3,215.3 279.3,215.4 276.3,215.4 273.3,215.4 270.3,215.4 267.3,215.5 264.3,215.5 261.3,215.5 258.3,215.5 255.3,215.5 252.3,215.5 249.3,215.5 246.3,215.5 243.3,215.5 240.3,215.5 237.3,215.5 234.3,215.5 231.3,215.4 228.3,215.4 225.3,215.4 222.3,215.4 219.3,215.3 216.3,215.3 213.3,215.3 210.3,215.2 207.3,215.2 204.3,215.2 201.3,215.1 198.3,215.1 195.3,215.0 192.3,215.0 189.3,214.9 186.3,214.8 183.3,214.8 180.3,214.7 177.3,214.7 174.3,214.6 171.3,214.5 168.3,214.4 165.3,214.4 162.3,214.3 159.3,214.2 156.3,214.1 153.3,214.0 150.3,214.0 147.3,213.9 144.3,213.8 141.3,213.7 138.3,213.6 135.3,213.5 132.3,213.4 129.3,213.3 126.3,213.2 123.3,213.1 120.3,213.0 117.3,212.9 114.3,212.8 111.3,212.7 108.3,212.5 105.3,212.4 102.3,212.3 99.3,212.2 96.3,212.1 93.3,212.0 90.3,211.8 87.3,211.7 84.3,211.6 81.3,211.5 78.3,211.3 75.3,211.2 72.3,211.1 69.3,210.9 66.3,210.8 63.3,210.7 60.3,210.5 57.3,210.4 54.3,210.3"/></clipPath>
<clipPath id="c2r"><rect x="54.3" y="27.4" width="404.9" height="202"/></clipPath>
<g clip-path="url(#c2r)">
<g clip-path="url(#c2s1)"><rect x="0.0" y="0.0" width="500.0" height="260.0" fill="#1e90ff"/><polygon points="115.0,27.0 130.0,27.0 130.0,42.0 115.0,42.0" fill="#00b400"/><polygon points="118.0,27.0 126.0,27.0 126.0,36.0 118.0,36.0" fill="#00ff00"/><polygon points="130.0,27.0 140.0,27.0 140.0,42.0 130.0,42.0" fill="#00ff00"/><polygon points="140.0,27.0 146.0,27.0 146.0,44.0 140.0,44.0" fill="#0000ff"/><polygon points="146.0,27.0 150.0,27.0 150.0,44.0 146.0,44.0" fill="#00b400"/><polygon points="148.0,27.0 154.0,27.0 154.0,46.0 148.0,46.0" fill="#0000ff"/><polygon points="154.0,20.0 254.0,20.0 254.0,36.0 200.0,29.0 154.0,27.0" fill="#ffffff"/><polygon points="254.0,20.0 300.0,20.0 300.0,29.0 254.0,36.0" fill="#ffffff"/><polygon points="154.0,27.0 160.0,27.0 160.0,60.0 154.0,60.0" fill="#1e90ff"/><polygon points="154.0,27.0 160.0,27.0 160.0,40.0 154.0,40.0" fill="#0000ff"/><polygon points="160.0,27.0 176.0,27.0 176.0,45.0 160.0,45.0" fill="#1e90ff"/><polygon points="166.0,45.0 190.0,45.0 190.0,60.0 166.0,60.0" fill="#00eeee"/><polygon points="174.0,27.0 184.0,27.0 184.0,40.0 174.0,40.0" fill="#9070ee"/><polygon points="184.0,27.0 190.0,27.0 190.0,45.0 184.0,45.0" fill="#1e90ff"/><polygon points="190.0,43.0 194.0,43.0 194.0,51.0 190.0,51.0" fill="#9070ee"/><polygon points="198.0,51.0 202.0,51.0 202.0,55.0 198.0,55.0" fill="#0000ff"/><polygon points="200.0,35.0 214.0,35.0 214.0,60.0 200.0,60.0" fill="#00eeee"/><polygon points="220.0,49.0 228.0,49.0 228.0,60.0 220.0,60.0" fill="#9070ee"/><polygon points="222.0,35.0 234.0,35.0 234.0,50.0 222.0,50.0" fill="#00eeee"/><polygon points="230.0,35.0 234.0,35.0 234.0,39.0 230.0,39.0" fill="#0000ff"/><polygon points="234.0,38.0 244.0,38.0 244.0,60.0 234.0,60.0" fill="#00eeee"/><polygon points="244.0,53.0 248.0,53.0 248.0,57.0 244.0,57.0" fill="#0000ff"/><polygon points="245.0,58.0 248.0,58.0 248.0,60.0 245.0,60.0" fill="#00ff00"/><polygon points="254.0,35.0 260.0,35.0 260.0,60.0 254.0,60.0" fill="#00eeee"/><polygon points="258.0,35.0 264.0,35.0 264.0,39.0 258.0,39.0" fill="#9070ee"/><polygon points="262.0,43.0 274.0,43.0 274.0,58.0 262.0,58.0" fill="#0000ff"/><polygon points="276.0,35.0 280.0,35.0 280.0,60.0 276.0,60.0" fill="#00ff00"/><polygon points="280.0,33.0 314.0,33.0 314.0,56.0 280.0,56.0" fill="#0000ff"/><polygon points="294.0,45.0 306.0,45.0 306.0,56.0 294.0,56.0" fill="#1e90ff"/><polygon points="290.0,33.0 294.0,33.0 294.0,39.0 290.0,39.0" fill="#00ff00"/><polygon points="306.0,27.0 324.0,27.0 324.0,49.0 306.0,49.0" fill="#00b400"/><polygon points="312.0,30.0 320.0,30.0 320.0,45.0 312.0,45.0" fill="#008000"/><polygon points="314.0,47.0 320.0,47.0 320.0,51.0 314.0,51.0" fill="#0000ff"/><polygon points="324.0,33.0 332.0,33.0 332.0,45.0 324.0,45.0" fill="#ffff00"/><polygon points="332.0,31.0 340.0,31.0 340.0,47.0 332.0,47.0" fill="#008000"/><polygon points="340.0,27.0 346.0,27.0 346.0,47.0 340.0,47.0" fill="#00ff00"/><polygon points="345.0,27.0 354.0,27.0 354.0,45.0 345.0,45.0" fill="#ffff00"/><polygon points="354.0,27.0 364.0,27.0 364.0,42.0 354.0,42.0" fill="#e6b800"/><polygon points="364.0,27.0 378.0,27.0 378.0,40.0 364.0,40.0" fill="#ff8000"/><polygon points="369.0,27.0 376.0,27.0 376.0,32.0 369.0,32.0" fill="#ff0000"/><polygon points="378.0,27.0 390.0,27.0 390.0,36.0 378.0,36.0" fill="#00ff00"/></g>
<g clip-path="url(#c2s2)"><rect x="0.0" y="0.0" width="500.0" height="260.0" fill="#1e90ff"/><polygon points="290.0,0.0 459.0,0.0 459.0,100.0 290.0,100.0" fill="#00b400"/><polygon points="54.0,20.0 60.0,20.0 60.0,50.0 54.0,50.0" fill="#1e90ff"/><polygon points="60.0,20.0 66.0,20.0 66.0,50.0 60.0,50.0" fill="#00eeee"/><polygon points="66.0,20.0 74.0,20.0 74.0,50.0 66.0,50.0" fill="#1e90ff"/><polygon points="72.0,25.0 76.0,25.0 76.0,50.0 72.0,50.0" fill="#0000ff"/><polygon points="74.0,33.0 84.0,33.0 84.0,60.0 74.0,60.0" fill="#0000ff"/><polygon points="84.0,35.0 94.0,35.0 94.0,60.0 84.0,60.0" fill="#0000ff"/><polygon points="92.0,35.0 102.0,35.0 102.0,62.0 92.0,62.0" fill="#00ff00"/><polygon points="100.0,37.0 110.0,37.0 110.0,66.0 100.0,66.0" fill="#008000"/><polygon points="104.0,45.0 108.0,45.0 108.0,60.0 104.0,60.0" fill="#00b400"/><polygon points="100.0,35.0 104.0,35.0 104.0,38.0 100.0,38.0" fill="#ffff00"/><polygon points="108.0,39.0 114.0,39.0 114.0,70.0 108.0,70.0" fill="#0000ff"/><polygon points="114.0,40.0 120.0,40.0 120.0,72.0 114.0,72.0" fill="#00ff00"/><polygon points="120.0,40.0 126.0,40.0 126.0,75.0 120.0,75.0" fill="#00b400"/><polygon points="126.0,45.0 130.0,45.0 130.0,75.0 126.0,75.0" fill="#0000ff"/><polygon points="128.0,53.0 134.0,53.0 134.0,57.0 128.0,57.0" fill="#00eeee"/><polygon points="128.0,57.0 134.0,57.0 134.0,71.0 128.0,71.0" fill="#9070ee"/><polygon points="134.0,50.0 142.0,50.0 142.0,80.0 134.0,80.0" fill="#0000ff"/><polygon points="142.0,52.0 148.0,52.0 148.0,80.0 142.0,80.0" fill="#00ff00"/><polygon points="148.0,52.0 154.0,52.0 154.0,82.0 148.0,82.0" fill="#1e90ff"/><polygon points="154.0,50.0 160.0,50.0 160.0,85.0 154.0,85.0" fill="#0000ff"/><polygon points="160.0,50.0 168.0,50.0 168.0,85.0 160.0,85.0" fill="#0000ff"/><polygon points="162.0,71.0 164.0,71.0 164.0,83.0 162.0,83.0" fill="#00ff00"/><polygon points="168.0,61.0 174.0,61.0 174.0,73.0 168.0,73.0" fill="#00ff00"/><polygon points="174.0,55.0 182.0,55.0 182.0,90.0 174.0,90.0" fill="#1e90ff"/><polygon points="182.0,55.0 192.0,55.0 192.0,90.0 182.0,90.0" fill="#0000ff"/><polygon points="192.0,55.0 206.0,55.0 206.0,92.0 192.0,92.0" fill="#00eeee"/><polygon points="206.0,55.0 214.0,55.0 214.0,92.0 206.0,92.0" fill="#1e90ff"/><polygon points="214.0,69.0 224.0,69.0 224.0,85.0 214.0,85.0" fill="#00ff00"/><polygon points="214.0,79.0 220.0,79.0 220.0,87.0 214.0,87.0" fill="#0000ff"/><polygon points="222.0,71.0 230.0,71.0 230.0,93.0 222.0,93.0" fill="#0000ff"/><polygon points="230.0,71.0 234.0,71.0 234.0,93.0 230.0,93.0" fill="#1e90ff"/><polygon points="234.0,73.0 238.0,73.0 238.0,93.0 234.0,93.0" fill="#ffffff"/><polygon points="238.0,75.0 244.0,75.0 244.0,93.0 238.0,93.0" fill="#9070ee"/><polygon points="244.0,73.0 254.0,73.0 254.0,89.0 244.0,89.0" fill="#00eeee"/><polygon points="254.0,73.0 274.0,73.0 274.0,97.0 254.0,97.0" fill="#1e90ff"/><polygon points="258.0,75.0 266.0,75.0 266.0,83.0 258.0,83.0" fill="#0000ff"/><polygon points="272.0,73.0 276.0,73.0 276.0,89.0 272.0,89.0" fill="#9070ee"/><polygon points="274.0,71.0 290.0,71.0 290.0,91.0 274.0,91.0" fill="#00eeee"/><polygon points="290.0,67.0 300.0,67.0 300.0,87.0 290.0,87.0" fill="#0000ff"/><polygon points="296.0,67.0 314.0,67.0 314.0,91.0 296.0,91.0" fill="#00ff00"/><polygon points="302.0,70.0 310.0,70.0 310.0,85.0 302.0,85.0" fill="#008000"/><polygon points="308.0,65.0 316.0,65.0 316.0,75.0 308.0,75.0" fill="#0000ff"/><polygon points="314.0,67.0 324.0,67.0 324.0,87.0 314.0,87.0" fill="#00b400"/><polygon points="316.0,63.0 322.0,63.0 322.0,69.0 316.0,69.0" fill="#ffff00"/><polygon points="324.0,61.0 334.0,61.0 334.0,85.0 324.0,85.0" fill="#008000"/><polygon points="332.0,67.0 340.0,67.0 340.0,79.0 332.0,79.0" fill="#0000ff"/><polygon points="332.0,79.0 340.0,79.0 340.0,85.0 332.0,85.0" fill="#00ff00"/><polygon points="340.0,50.0 347.0,50.0 347.0,85.0 340.0,85.0" fill="#00b400"/><polygon points="347.0,50.0 366.0,50.0 366.0,82.0 347.0,82.0" fill="#e6b800"/><polygon points="347.0,55.0 354.0,55.0 354.0,75.0 347.0,75.0" fill="#ffff00"/><polygon points="366.0,45.0 376.0,45.0 376.0,80.0 366.0,80.0" fill="#00b400"/><polygon points="376.0,40.0 388.0,40.0 388.0,75.0 376.0,75.0" fill="#0000ff"/><polygon points="378.0,40.0 384.0,40.0 384.0,46.0 378.0,46.0" fill="#00eeee"/><polygon points="388.0,30.0 407.0,30.0 407.0,70.0 388.0,70.0" fill="#00b400"/><polygon points="392.0,35.0 400.0,35.0 400.0,65.0 392.0,65.0" fill="#008000"/><polygon points="405.0,38.0 414.0,38.0 414.0,62.0 405.0,62.0" fill="#e6b800"/><polygon points="407.0,42.0 411.0,42.0 411.0,58.0 407.0,58.0" fill="#ffff00"/><polygon points="414.0,27.0 424.0,27.0 424.0,57.0 414.0,57.0" fill="#00b400"/><polygon points="424.0,27.0 459.0,27.0 459.0,55.0 424.0,55.0" fill="#e6b800"/><polygon points="430.0,30.0 450.0,30.0 450.0,45.0 430.0,45.0" fill="#ff8000"/><polygon points="426.0,27.0 436.0,27.0 436.0,32.0 426.0,32.0" fill="#ffff00"/><polygon points="438.0,43.0 443.0,43.0 443.0,47.0 438.0,47.0" fill="#ff0000"/><polygon points="440.0,45.0 459.0,45.0 459.0,55.0 440.0,55.0" fill="#ffff00"/></g>
<g clip-path="url(#c2s3)"><rect x="0.0" y="0.0" width="500.0" height="260.0" fill="#1e90ff"/><polygon points="354.0,40.0 459.0,40.0 459.0,100.0 354.0,100.0" fill="#00b400"/><polygon points="54.0,50.0 58.0,50.0 58.0,97.0 54.0,97.0" fill="#0000ff"/><polygon points="58.0,50.0 66.0,50.0 66.0,80.0 58.0,80.0" fill="#0000ff"/><polygon points="66.0,55.0 84.0,55.0 84.0,100.0 66.0,100.0" fill="#1e90ff"/><polygon points="70.0,62.0 84.0,62.0 84.0,97.0 70.0,97.0" fill="#00eeee"/><polygon points="84.0,60.0 114.0,60.0 114.0,97.0 84.0,97.0" fill="#00eeee"/><polygon points="92.0,67.0 96.0,67.0 96.0,75.0 92.0,75.0" fill="#9070ee"/><polygon points="110.0,73.0 114.0,73.0 114.0,87.0 110.0,87.0" fill="#9070ee"/><polygon points="114.0,65.0 124.0,65.0 124.0,97.0 114.0,97.0" fill="#00eeee"/><polygon points="124.0,68.0 134.0,68.0 134.0,97.0 124.0,97.0" fill="#1e90ff"/><polygon points="128.0,79.0 138.0,79.0 138.0,97.0 128.0,97.0" fill="#0000ff"/><polygon points="138.0,80.0 146.0,80.0 146.0,97.0 138.0,97.0" fill="#1e90ff"/><polygon points="142.0,85.0 144.0,85.0 144.0,91.0 142.0,91.0" fill="#9070ee"/><polygon points="146.0,80.0 154.0,80.0 154.0,97.0 146.0,97.0" fill="#0000ff"/><polygon points="154.0,85.0 164.0,85.0 164.0,116.0 154.0,116.0" fill="#0000ff"/><polygon points="54.0,90.0 70.0,90.0 70.0,114.0 54.0,114.0" fill="#1e90ff"/><polygon points="70.0,90.0 74.0,90.0 74.0,118.0 70.0,118.0" fill="#0000ff"/><polygon points="73.0,94.0 76.0,94.0 76.0,130.0 73.0,130.0" fill="#00ff00"/><polygon points="76.0,90.0 79.0,90.0 79.0,120.0 76.0,120.0" fill="#0000ff"/><polygon points="79.0,94.0 82.0,94.0 82.0,140.0 79.0,140.0" fill="#00ff00"/><polygon points="82.0,90.0 92.0,90.0 92.0,124.0 82.0,124.0" fill="#0000ff"/><polygon points="92.0,90.0 114.0,90.0 114.0,130.0 92.0,130.0" fill="#00eeee"/><polygon points="104.0,96.0 112.0,96.0 112.0,110.0 104.0,110.0" fill="#1e90ff"/><polygon points="104.0,120.0 108.0,120.0 108.0,130.0 104.0,130.0" fill="#9070ee"/><polygon points="114.0,90.0 126.0,90.0 126.0,146.0 114.0,146.0" fill="#0000ff"/><polygon points="114.0,102.0 118.0,102.0 118.0,114.0 114.0,114.0" fill="#00ff00"/><polygon points="120.0,104.0 126.0,104.0 126.0,130.0 120.0,130.0" fill="#00ff00"/><polygon points="126.0,110.0 138.0,110.0 138.0,130.0 126.0,130.0" fill="#00ff00"/><polygon points="130.0,120.0 134.0,120.0 134.0,130.0 130.0,130.0" fill="#0000ff"/><polygon points="138.0,90.0 154.0,90.0 154.0,112.0 138.0,112.0" fill="#1e90ff"/><polygon points="138.0,114.0 144.0,114.0 144.0,150.0 138.0,150.0" fill="#0000ff"/><polygon points="144.0,114.0 154.0,114.0 154.0,150.0 144.0,150.0" fill="#00b400"/><polygon points="164.0,94.0 178.0,94.0 178.0,120.0 164.0,120.0" fill="#00eeee"/><polygon points="170.0,102.0 180.0,102.0 180.0,118.0 170.0,118.0" fill="#9070ee"/><polygon points="176.0,112.0 188.0,112.0 188.0,120.0 176.0,120.0" fill="#ffffff"/><polygon points="166.0,120.0 180.0,120.0 180.0,140.0 166.0,140.0" fill="#1e90ff"/><polygon points="178.0,98.0 204.0,98.0 204.0,118.0 178.0,118.0" fill="#9070ee"/><polygon points="180.0,118.0 188.0,118.0 188.0,140.0 180.0,140.0" fill="#00eeee"/><polygon points="204.0,94.0 254.0,94.0 254.0,124.0 204.0,124.0" fill="#00eeee"/><polygon points="212.0,98.0 228.0,98.0 228.0,108.0 212.0,108.0" fill="#9070ee"/><polygon points="230.0,104.0 238.0,104.0 238.0,122.0 230.0,122.0" fill="#1e90ff"/><polygon points="248.0,106.0 254.0,106.0 254.0,122.0 248.0,122.0" fill="#0000ff"/><polygon points="188.0,122.0 194.0,122.0 194.0,140.0 188.0,140.0" fill="#00b400"/><polygon points="194.0,126.0 206.0,126.0 206.0,140.0 194.0,140.0" fill="#00ff00"/><polygon points="206.0,124.0 210.0,124.0 210.0,146.0 206.0,146.0" fill="#0000ff"/><polygon points="210.0,126.0 214.0,126.0 214.0,144.0 210.0,144.0" fill="#9070ee"/><polygon points="214.0,126.0 230.0,126.0 230.0,140.0 214.0,140.0" fill="#00ff00"/><polygon points="230.0,126.0 238.0,126.0 238.0,142.0 230.0,142.0" fill="#ffff00"/><polygon points="238.0,126.0 248.0,126.0 248.0,142.0 238.0,142.0" fill="#00b400"/><polygon points="248.0,126.0 254.0,126.0 254.0,146.0 248.0,146.0" fill="#0000ff"/><polygon points="154.0,116.0 164.0,116.0 164.0,140.0 154.0,140.0" fill="#00ff00"/><polygon points="155.0,140.0 159.0,140.0 159.0,158.0 155.0,158.0" fill="#ffffff"/><polygon points="54.0,116.0 66.0,116.0 66.0,144.0 54.0,144.0" fill="#e6b800"/><polygon points="54.0,118.0 58.0,118.0 58.0,142.0 54.0,142.0" fill="#ff8000"/><polygon points="66.0,120.0 74.0,120.0 74.0,142.0 66.0,142.0" fill="#ffff00"/><polygon points="68.0,130.0 80.0,130.0 80.0,144.0 68.0,144.0" fill="#00b400"/><polygon points="82.0,124.0 94.0,124.0 94.0,146.0 82.0,146.0" fill="#00ff00"/><polygon points="86.0,130.0 92.0,130.0 92.0,146.0 86.0,146.0" fill="#00b400"/><polygon points="92.0,130.0 98.0,130.0 98.0,144.0 92.0,144.0" fill="#ffff00"/><polygon points="98.0,134.0 114.0,134.0 114.0,146.0 98.0,146.0" fill="#00b400"/><polygon points="102.0,136.0 110.0,136.0 110.0,146.0 102.0,146.0" fill="#00ff00"/><polygon points="126.0,130.0 138.0,130.0 138.0,148.0 126.0,148.0" fill="#00ff00"/><polygon points="134.0,134.0 138.0,134.0 138.0,154.0 134.0,154.0" fill="#ffff00"/><polygon points="254.0,100.0 262.0,100.0 262.0,124.0 254.0,124.0" fill="#0000ff"/><polygon points="258.0,106.0 266.0,106.0 266.0,130.0 258.0,130.0" fill="#1e90ff"/><polygon points="254.0,126.0 258.0,126.0 258.0,140.0 254.0,140.0" fill="#00ff00"/><polygon points="262.0,100.0 274.0,100.0 274.0,140.0 262.0,140.0" fill="#0000ff"/><polygon points="268.0,126.0 276.0,126.0 276.0,142.0 268.0,142.0" fill="#00eeee"/><polygon points="268.0,126.0 272.0,126.0 272.0,130.0 268.0,130.0" fill="#9070ee"/><polygon points="274.0,102.0 286.0,102.0 286.0,126.0 274.0,126.0" fill="#00ff00"/><polygon points="280.0,110.0 286.0,110.0 286.0,140.0 280.0,140.0" fill="#0000ff"/><polygon points="286.0,100.0 294.0,100.0 294.0,130.0 286.0,130.0" fill="#00ff00"/><polygon points="290.0,126.0 296.0,126.0 296.0,142.0 290.0,142.0" fill="#ffff00"/><polygon points="294.0,100.0 314.0,100.0 314.0,142.0 294.0,142.0" fill="#0000ff"/><polygon points="298.0,110.0 310.0,110.0 310.0,120.0 298.0,120.0" fill="#1e90ff"/><polygon points="302.0,122.0 314.0,122.0 314.0,130.0 302.0,130.0" fill="#00ff00"/><polygon points="314.0,120.0 330.0,120.0 330.0,140.0 314.0,140.0" fill="#00b400"/><polygon points="314.0,100.0 322.0,100.0 322.0,120.0 314.0,120.0" fill="#0000ff"/><polygon points="330.0,100.0 342.0,100.0 342.0,140.0 330.0,140.0" fill="#0000ff"/><polygon points="334.0,110.0 340.0,110.0 340.0,130.0 334.0,130.0" fill="#1e90ff"/><polygon points="342.0,100.0 354.0,100.0 354.0,138.0 342.0,138.0" fill="#0000ff"/><polygon points="342.0,110.0 348.0,110.0 348.0,128.0 342.0,128.0" fill="#00ff00"/><polygon points="308.0,96.0 320.0,96.0 320.0,102.0 308.0,102.0" fill="#00ff00"/><polygon points="359.0,60.0 365.0,60.0 365.0,97.0 359.0,97.0" fill="#00ff00"/><polygon points="359.0,87.0 367.0,87.0 367.0,95.0 359.0,95.0" fill="#0000ff"/><polygon points="365.0,60.0 385.0,60.0 385.0,97.0 365.0,97.0" fill="#00ff00"/><polygon points="372.0,72.0 382.0,72.0 382.0,92.0 372.0,92.0" fill="#00b400"/><polygon points="375.0,89.0 381.0,89.0 381.0,97.0 375.0,97.0" fill="#0000ff"/><polygon points="385.0,60.0 393.0,60.0 393.0,97.0 385.0,97.0" fill="#00ff00"/><polygon points="393.0,83.0 399.0,83.0 399.0,97.0 393.0,97.0" fill="#ffff00"/><polygon points="399.0,60.0 409.0,60.0 409.0,97.0 399.0,97.0" fill="#00b400"/><polygon points="409.0,81.0 421.0,81.0 421.0,95.0 409.0,95.0" fill="#0000ff"/><polygon points="413.0,91.0 419.0,91.0 419.0,95.0 413.0,95.0" fill="#1e90ff"/><polygon points="421.0,60.0 429.0,60.0 429.0,97.0 421.0,97.0" fill="#00b400"/><polygon points="429.0,57.0 439.0,57.0 439.0,87.0 429.0,87.0" fill="#ffff00"/><polygon points="439.0,57.0 445.0,57.0 445.0,97.0 439.0,97.0" fill="#008000"/><polygon points="445.0,53.0 453.0,53.0 453.0,83.0 445.0,83.0" fill="#ffff00"/><polygon points="453.0,50.0 459.0,50.0 459.0,97.0 453.0,97.0" fill="#00b400"/><polygon points="359.0,90.0 371.0,90.0 371.0,110.0 359.0,110.0" fill="#00ff00"/><polygon points="371.0,90.0 395.0,90.0 395.0,134.0 371.0,134.0" fill="#0000ff"/><polygon points="359.0,110.0 365.0,110.0 365.0,136.0 359.0,136.0" fill="#1e90ff"/><polygon points="362.0,100.0 370.0,100.0 370.0,112.0 362.0,112.0" fill="#00ff00"/><polygon points="395.0,90.0 407.0,90.0 407.0,100.0 395.0,100.0" fill="#ffff00"/><polygon points="395.0,100.0 409.0,100.0 409.0,130.0 395.0,130.0" fill="#00b400"/><polygon points="405.0,108.0 409.0,108.0 409.0,124.0 405.0,124.0" fill="#ffff00"/><polygon points="409.0,90.0 429.0,90.0 429.0,130.0 409.0,130.0" fill="#008000"/><polygon points="409.0,90.0 423.0,90.0 423.0,94.0 409.0,94.0" fill="#0000ff"/><polygon points="429.0,90.0 459.0,90.0 459.0,116.0 429.0,116.0" fill="#00b400"/><polygon points="427.0,114.0 455.0,114.0 455.0,141.0 427.0,141.0" fill="#0000ff"/><polygon points="429.0,116.0 453.0,116.0 453.0,139.0 429.0,139.0" fill="#1e90ff"/><polygon points="439.0,120.0 449.0,120.0 449.0,136.0 439.0,136.0" fill="#9070ee"/><polygon points="455.0,116.0 459.0,116.0 459.0,140.0 455.0,140.0" fill="#00b400"/><polygon points="54.0,146.0 459.0,146.0 459.0,215.0 54.0,215.0" fill="#ff0000"/><polygon points="54.0,140.0 62.0,140.0 62.0,200.0 54.0,200.0" fill="#ff8000"/><polygon points="56.0,150.0 60.0,150.0 60.0,160.0 56.0,160.0" fill="#ffff00"/><polygon points="56.0,165.0 66.0,165.0 66.0,185.0 56.0,185.0" fill="#ffff00"/><polygon points="54.0,181.0 57.0,181.0 57.0,189.0 54.0,189.0" fill="#008000"/><polygon points="74.0,150.0 80.0,150.0 80.0,172.0 74.0,172.0" fill="#cc0000"/><polygon points="86.0,152.0 100.0,152.0 100.0,172.0 86.0,172.0" fill="#cc0000"/><polygon points="110.0,150.0 124.0,150.0 124.0,172.0 110.0,172.0" fill="#cc0000"/><polygon points="134.0,152.0 150.0,152.0 150.0,170.0 134.0,170.0" fill="#cc0000"/><polygon points="134.0,159.0 146.0,159.0 146.0,169.0 134.0,169.0" fill="#ff00ff"/><polygon points="66.0,150.0 74.0,150.0 74.0,175.0 66.0,175.0" fill="#ff8000"/><polygon points="62.0,172.0 160.0,170.0 200.0,176.0 200.0,192.0 150.0,195.0 100.0,203.0 62.0,207.0" fill="#ff8000"/><polygon points="90.0,190.0 110.0,178.0 140.0,172.0 152.0,172.0 152.0,182.0 132.0,195.0 110.0,201.0 90.0,201.0" fill="#e6b800"/><polygon points="166.0,142.0 184.0,142.0 184.0,185.0 166.0,185.0" fill="#ff8000"/><polygon points="172.0,150.0 178.0,150.0 178.0,160.0 172.0,160.0" fill="#ff0000"/><polygon points="184.0,148.0 196.0,148.0 196.0,167.0 184.0,167.0" fill="#9955cc"/><polygon points="190.0,163.0 198.0,163.0 198.0,175.0 190.0,175.0" fill="#ff00ff"/><polygon points="150.0,191.0 200.0,189.0 200.0,205.0 150.0,205.0" fill="#cc0000"/><polygon points="114.0,203.0 150.0,200.0 150.0,213.0 114.0,213.0" fill="#cc0000"/><polygon points="134.0,207.0 154.0,207.0 154.0,214.0 134.0,214.0" fill="#ff00ff"/><polygon points="154.0,201.0 188.0,201.0 188.0,214.0 154.0,214.0" fill="#ff00ff"/><polygon points="154.0,205.0 166.0,205.0 166.0,214.0 154.0,214.0" fill="#9070ee"/><polygon points="194.0,142.0 206.0,142.0 206.0,160.0 194.0,160.0" fill="#ffff00"/><polygon points="200.0,150.0 208.0,150.0 208.0,216.0 200.0,216.0" fill="#ff8000"/><polygon points="206.0,142.0 212.0,142.0 212.0,160.0 206.0,160.0" fill="#ff8000"/><polygon points="212.0,144.0 224.0,144.0 224.0,160.0 212.0,160.0" fill="#ff0000"/><polygon points="224.0,142.0 238.0,142.0 238.0,160.0 224.0,160.0" fill="#ffff00"/><polygon points="238.0,142.0 254.0,142.0 254.0,162.0 238.0,162.0" fill="#ff8000"/><polygon points="206.0,155.0 254.0,155.0 254.0,165.0 206.0,165.0" fill="#ffff00"/><polygon points="212.0,155.0 224.0,155.0 224.0,165.0 212.0,165.0" fill="#ff0000"/><polygon points="206.0,163.0 250.0,163.0 250.0,203.0 206.0,203.0" fill="#00ff00"/><polygon points="210.0,167.0 248.0,167.0 248.0,191.0 210.0,191.0" fill="#0000ff"/><polygon points="214.0,169.0 232.0,169.0 232.0,187.0 214.0,187.0" fill="#1e90ff"/><polygon points="236.0,181.0 242.0,181.0 242.0,187.0 236.0,187.0" fill="#1e90ff"/><polygon points="206.0,191.0 254.0,191.0 254.0,203.0 206.0,203.0" fill="#00b400"/><polygon points="214.0,195.0 240.0,195.0 240.0,203.0 214.0,203.0" fill="#008000"/><polygon points="206.0,199.0 254.0,199.0 254.0,216.0 206.0,216.0" fill="#ffff00"/><polygon points="240.0,199.0 254.0,199.0 254.0,214.0 240.0,214.0" fill="#ff8000"/><polygon points="224.0,211.0 244.0,211.0 244.0,216.0 224.0,216.0" fill="#008000"/><polygon points="254.0,130.0 262.0,130.0 262.0,165.0 254.0,165.0" fill="#ffff00"/><polygon points="262.0,144.0 274.0,144.0 274.0,160.0 262.0,160.0" fill="#ff0000"/><polygon points="274.0,144.0 284.0,144.0 284.0,160.0 274.0,160.0" fill="#ff8000"/><polygon points="284.0,144.0 292.0,144.0 292.0,160.0 284.0,160.0" fill="#ff0000"/><polygon points="292.0,144.0 298.0,144.0 298.0,160.0 292.0,160.0" fill="#ff8000"/><polygon points="300.0,144.0 304.0,144.0 304.0,160.0 300.0,160.0" fill="#ff0000"/><polygon points="304.0,146.0 312.0,146.0 312.0,160.0 304.0,160.0" fill="#9070ee"/><polygon points="310.0,146.0 314.0,146.0 314.0,160.0 310.0,160.0" fill="#ff00ff"/><polygon points="314.0,144.0 359.0,144.0 359.0,160.0 314.0,160.0" fill="#e6b800"/><polygon points="320.0,146.0 340.0,146.0 340.0,160.0 320.0,160.0" fill="#ff8000"/><polygon points="340.0,148.0 352.0,148.0 352.0,158.0 340.0,158.0" fill="#ff0000"/><polygon points="254.0,155.0 300.0,155.0 300.0,215.0 254.0,215.0" fill="#e6b800"/><polygon points="254.0,146.0 300.0,146.0 300.0,156.0 254.0,156.0" fill="#ff8000"/><polygon points="258.0,146.0 266.0,146.0 266.0,158.0 258.0,158.0" fill="#ff0000"/><polygon points="294.0,146.0 302.0,146.0 302.0,158.0 294.0,158.0" fill="#ff0000"/><polygon points="316.0,146.0 336.0,146.0 336.0,158.0 316.0,158.0" fill="#e6b800"/><polygon points="336.0,150.0 377.0,150.0 377.0,160.0 336.0,160.0" fill="#ff0000"/><polygon points="257.0,160.0 269.0,160.0 269.0,189.0 257.0,189.0" fill="#00ff00"/><polygon points="259.0,168.0 266.0,168.0 266.0,184.0 259.0,184.0" fill="#008000"/><polygon points="267.0,158.0 276.0,158.0 276.0,192.0 267.0,192.0" fill="#ffff00"/><polygon points="254.0,189.0 300.0,189.0 300.0,216.0 254.0,216.0" fill="#ff8000"/><polygon points="262.0,186.0 290.0,186.0 290.0,216.0 262.0,216.0" fill="#ff0000"/><polygon points="254.0,196.0 262.0,196.0 262.0,216.0 254.0,216.0" fill="#ff8000"/><polygon points="299.0,146.0 314.0,146.0 314.0,156.0 346.0,156.0 377.0,156.0 377.0,168.0 348.0,168.0 338.0,180.0 334.0,200.0 339.0,215.0 277.0,215.0 288.0,195.0 299.0,182.0" fill="#ff00ff"/><polygon points="329.0,168.0 377.0,168.0 377.0,215.0 339.0,215.0 334.0,195.0 331.0,180.0" fill="#cc0000"/><polygon points="372.0,168.0 377.0,168.0 377.0,215.0 372.0,215.0" fill="#ff0000"/><polygon points="302.0,146.0 313.0,146.0 313.0,158.0 346.0,158.0 346.0,165.0 335.0,171.0 325.0,182.0 318.0,195.0 315.0,215.0 281.0,215.0 290.0,195.0 302.0,182.0" fill="#9955cc"/><polygon points="361.0,158.0 367.0,158.0 367.0,163.0 361.0,163.0" fill="#9070ee"/><polygon points="298.0,206.0 315.0,206.0 315.0,216.0 298.0,216.0" fill="#ff0000"/><polygon points="303.0,209.0 310.0,209.0 310.0,216.0 303.0,216.0" fill="#ff8000"/><polygon points="320.0,199.0 338.0,199.0 338.0,216.0 320.0,216.0" fill="#ff00ff"/><polygon points="334.0,205.0 350.0,205.0 350.0,216.0 334.0,216.0" fill="#9070ee"/><polygon points="340.0,205.0 359.0,205.0 359.0,216.0 340.0,216.0" fill="#ff0000"/><polygon points="363.0,134.0 391.0,134.0 391.0,156.0 363.0,156.0" fill="#e6b800"/><polygon points="385.0,132.0 391.0,132.0 391.0,154.0 385.0,154.0" fill="#ff8000"/><polygon points="391.0,130.0 399.0,130.0 399.0,150.0 391.0,150.0" fill="#00ff00"/><polygon points="395.0,128.0 407.0,128.0 407.0,146.0 395.0,146.0" fill="#0000ff"/><polygon points="401.0,140.0 405.0,140.0 405.0,146.0 401.0,146.0" fill="#9070ee"/><polygon points="407.0,128.0 415.0,128.0 415.0,140.0 407.0,140.0" fill="#ffff00"/><polygon points="407.0,142.0 459.0,142.0 459.0,156.0 407.0,156.0" fill="#ff8000"/><polygon points="409.0,148.0 439.0,148.0 439.0,160.0 409.0,160.0" fill="#ff0000"/><polygon points="439.0,140.0 459.0,140.0 459.0,160.0 439.0,160.0" fill="#ff8000"/><polygon points="359.0,136.0 363.0,136.0 363.0,160.0 359.0,160.0" fill="#00ff00"/><polygon points="359.0,156.0 409.0,156.0 409.0,165.0 359.0,165.0" fill="#ff0000"/><polygon points="359.0,155.0 397.0,155.0 397.0,171.0 359.0,171.0" fill="#ff00ff"/><polygon points="363.0,159.0 371.0,159.0 371.0,167.0 363.0,167.0" fill="#9070ee"/><polygon points="381.0,157.0 393.0,157.0 393.0,169.0 381.0,169.0" fill="#9070ee"/><polygon points="359.0,171.0 395.0,171.0 395.0,211.0 359.0,211.0" fill="#cc0000"/><polygon points="395.0,165.0 437.0,165.0 437.0,155.0 449.0,155.0 449.0,170.0 457.0,175.0 457.0,195.0 430.0,201.0 420.0,203.0 395.0,196.0 390.0,185.0" fill="#ff8000"/><polygon points="415.0,171.0 423.0,171.0 423.0,187.0 415.0,187.0" fill="#e6b800"/><polygon points="379.0,201.0 389.0,201.0 389.0,213.0 379.0,213.0" fill="#ff8000"/><polygon points="451.0,155.0 459.0,155.0 459.0,161.0 451.0,161.0" fill="#ffff00"/></g>
</g>
<polyline points="54.3,193.2 257,229.4 459.2,193.2" fill="none" stroke="#000" stroke-opacity="0.5" stroke-width="0.75"/>
<path d="M54.5,27.4V229.4H459.2V27.4" fill="none" stroke="#aaa" stroke-width="0.9"/>
<line x1="51" y1="27.4" x2="54.5" y2="27.4" stroke="#999" stroke-width="0.8"/>
<line x1="459.2" y1="27.4" x2="462.5" y2="27.4" stroke="#bbb" stroke-width="0.6"/>
<text x="40.4" y="30.9" text-anchor="end" class="t">5.0</text>
<line x1="51" y1="67.8" x2="54.5" y2="67.8" stroke="#999" stroke-width="0.8"/>
<line x1="459.2" y1="67.8" x2="462.5" y2="67.8" stroke="#bbb" stroke-width="0.6"/>
<text x="40.4" y="71.3" text-anchor="end" class="t">4.0</text>
<line x1="51" y1="108.2" x2="54.5" y2="108.2" stroke="#999" stroke-width="0.8"/>
<line x1="459.2" y1="108.2" x2="462.5" y2="108.2" stroke="#bbb" stroke-width="0.6"/>
<text x="40.4" y="111.7" text-anchor="end" class="t">3.0</text>
<line x1="51" y1="148.6" x2="54.5" y2="148.6" stroke="#999" stroke-width="0.8"/>
<line x1="459.2" y1="148.6" x2="462.5" y2="148.6" stroke="#bbb" stroke-width="0.6"/>
<text x="40.4" y="152.1" text-anchor="end" class="t">2.0</text>
<line x1="51" y1="189.0" x2="54.5" y2="189.0" stroke="#999" stroke-width="0.8"/>
<line x1="459.2" y1="189.0" x2="462.5" y2="189.0" stroke="#bbb" stroke-width="0.6"/>
<text x="40.4" y="192.5" text-anchor="end" class="t">1.0</text>
<text x="7" y="31.2" class="t">km</text>
<line x1="57.6" y1="226" x2="57.6" y2="232.5" stroke="#999" stroke-width="0.8"/>
<text x="57.6" y="239.8" text-anchor="middle" class="t">30 km</text>
<line x1="107.6" y1="226" x2="107.6" y2="232.5" stroke="#999" stroke-width="0.8"/>
<text x="107.6" y="239.8" text-anchor="middle" class="t">22 km</text>
<line x1="157.6" y1="226" x2="157.6" y2="232.5" stroke="#999" stroke-width="0.8"/>
<text x="157.6" y="239.8" text-anchor="middle" class="t">15 km</text>
<line x1="207.6" y1="226" x2="207.6" y2="232.5" stroke="#999" stroke-width="0.8"/>
<text x="207.6" y="239.8" text-anchor="middle" class="t">7 km</text>
<line x1="257.6" y1="226" x2="257.6" y2="232.5" stroke="#999" stroke-width="0.8"/>
<text x="257.6" y="239.8" text-anchor="middle" class="t">0 km</text>
<line x1="307.6" y1="226" x2="307.6" y2="232.5" stroke="#999" stroke-width="0.8"/>
<text x="307.6" y="239.8" text-anchor="middle" class="t">7 km</text>
<line x1="357.6" y1="226" x2="357.6" y2="232.5" stroke="#999" stroke-width="0.8"/>
<text x="357.6" y="239.8" text-anchor="middle" class="t">15 km</text>
<line x1="407.6" y1="226" x2="407.6" y2="232.5" stroke="#999" stroke-width="0.8"/>
<text x="407.6" y="239.8" text-anchor="middle" class="t">22 km</text>
<line x1="457.6" y1="226" x2="457.6" y2="232.5" stroke="#999" stroke-width="0.8"/>
<text x="457.6" y="239.8" text-anchor="middle" class="t">30 km</text>
<text x="28.6" y="246.2" class="t">Heading 0 deg</text>
<text x="489.4" y="246.2" text-anchor="end" class="t">Heading 180 deg</text>
<text x="256.5" y="15.1" text-anchor="middle" class="ti">KTLX ZDR from 20220223-134106 to 20220223-134106</text>
<text x="7.3" y="16.4" class="lb" textLength="13.8" lengthAdjust="spacingAndGlyphs">c)</text>
<rect x="465.4" y="27.90" width="6.5" height="12.83" fill="#9955cc"/>
<rect x="465.4" y="40.43" width="6.5" height="12.83" fill="#ff00ff"/>
<rect x="465.4" y="52.97" width="6.5" height="12.83" fill="#b40000"/>
<rect x="465.4" y="65.50" width="6.5" height="12.83" fill="#cc0000"/>
<rect x="465.4" y="78.03" width="6.5" height="12.83" fill="#ff0000"/>
<rect x="465.4" y="90.57" width="6.5" height="12.83" fill="#ff8000"/>
<rect x="465.4" y="103.10" width="6.5" height="12.83" fill="#e6b800"/>
<rect x="465.4" y="115.63" width="6.5" height="12.83" fill="#ffff00"/>
<rect x="465.4" y="128.17" width="6.5" height="12.83" fill="#008000"/>
<rect x="465.4" y="140.70" width="6.5" height="12.83" fill="#00b400"/>
<rect x="465.4" y="153.23" width="6.5" height="12.83" fill="#00ff00"/>
<rect x="465.4" y="165.77" width="6.5" height="12.83" fill="#0000ff"/>
<rect x="465.4" y="178.30" width="6.5" height="12.83" fill="#1e90ff"/>
<rect x="465.4" y="190.83" width="6.5" height="12.83" fill="#00eeee"/>
<rect x="465.4" y="203.37" width="6.5" height="12.83" fill="#9070ee"/>
<text x="474.2" y="40.6" class="t">1.80</text>
<text x="474.2" y="53.2" class="t">1.60</text>
<text x="474.2" y="65.7" class="t">1.40</text>
<text x="474.2" y="78.2" class="t">1.20</text>
<text x="474.2" y="90.8" class="t">1.00</text>
<text x="474.2" y="103.3" class="t">0.80</text>
<text x="474.2" y="115.8" class="t">0.60</text>
<text x="474.2" y="128.4" class="t">0.50</text>
<text x="474.2" y="140.9" class="t">0.40</text>
<text x="474.2" y="153.4" class="t">0.30</text>
<text x="474.2" y="166.0" class="t">0.20</text>
<text x="474.2" y="178.5" class="t">0.10</text>
<text x="474.2" y="191.0" class="t">0.00</text>
<text x="474.2" y="203.6" class="t">-0.10</text>
<text x="474.2" y="216.1" class="t">-0.20</text>
<text x="474.2" y="228.6" class="t">-99.00</text>
<path d="M4.6,143.8H18V139.6L22.2,148.1L18,156.6V152.6H4.6Z" fill="#ff0000" stroke="#4a6fb0" stroke-width="0.5"/>
<path d="M4.6,205H18.5V201.4L22.7,209.7L18.5,218V214H4.6Z" fill="url(#dots)" stroke="#5a86c8" stroke-width="0.5"/>
</g>
</svg></body></html>
